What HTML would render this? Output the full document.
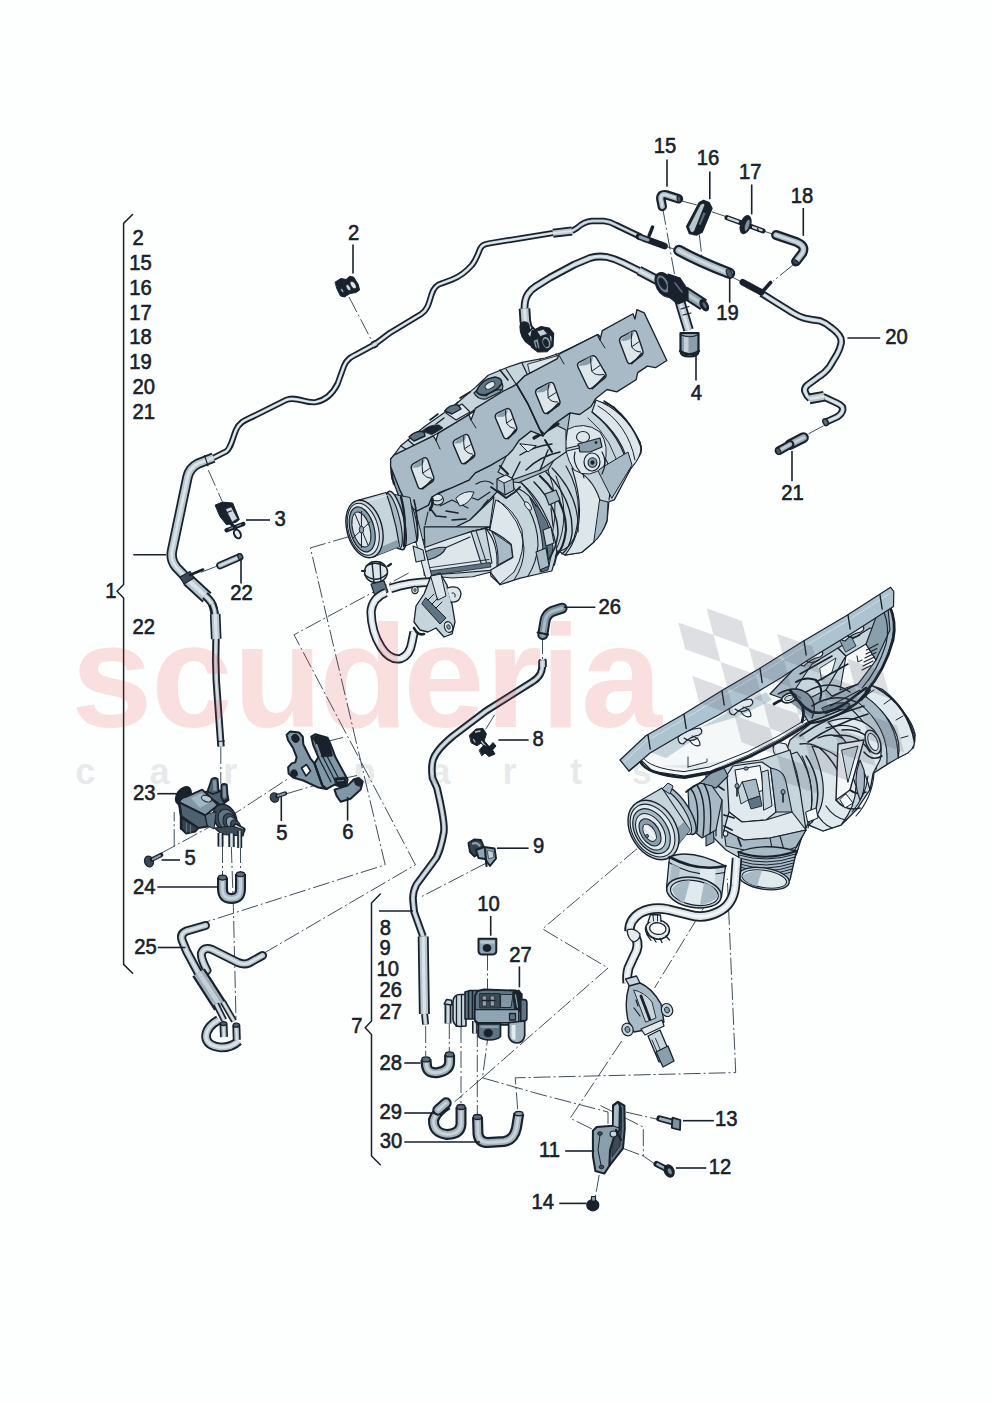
<!DOCTYPE html>
<html lang="en">
<head>
<meta charset="utf-8">
<title>Vacuum system - turbocharger parts diagram</title>
<style>
html,body{margin:0;padding:0;background:#fdfffe;}
body{width:992px;height:1403px;overflow:hidden;font-family:"Liberation Sans",sans-serif;}
svg{display:block;}
.lb{font-family:"Liberation Sans",sans-serif;fill:#18212c;stroke:#18212c;stroke-width:0.6px;}
.wm{font-family:"Liberation Sans",sans-serif;}
</style>
</head>
<body>
<svg width="992" height="1403" viewBox="0 0 992 1403">
<rect x="0" y="0" width="992" height="1403" fill="#fdfffe"/>
<g id="p_dash">
<polyline points="349.5,536.5 310.4,547.9 385.2,864.8 203.7,922.7" fill="none" stroke="#2b3a47" stroke-width="0.9" stroke-dasharray="17 3 2 3"/>
<polyline points="408.7,573.0 294.0,634.8 415.4,864.8 264.2,953.0" fill="none" stroke="#2b3a47" stroke-width="0.9" stroke-dasharray="17 3 2 3"/>
<polyline points="160.3,853.7 237.2,812.0 288.9,778.1" fill="none" stroke="#2b3a47" stroke-width="0.9" stroke-dasharray="17 3 2 3"/>
<polyline points="174.2,846.2 174.2,812.0" fill="none" stroke="#2b3a47" stroke-width="0.9" stroke-dasharray="17 3 2 3"/>
<polyline points="286.3,793.8 318.0,784.5" fill="none" stroke="#2b3a47" stroke-width="0.9" stroke-dasharray="17 3 2 3"/>
<polyline points="327.0,741.5 343.0,737.5" fill="none" stroke="#2b3a47" stroke-width="0.9" stroke-dasharray="17 3 2 3"/>
<polyline points="343.0,778.5 357.0,775.5" fill="none" stroke="#2b3a47" stroke-width="0.9" stroke-dasharray="17 3 2 3"/>
<polyline points="220.8,747.0 220.8,784.0" fill="none" stroke="#2b3a47" stroke-width="0.9" stroke-dasharray="17 3 2 3"/>
<polyline points="222.5,846.0 222.5,876.0" fill="none" stroke="#2b3a47" stroke-width="0.9" stroke-dasharray="17 3 2 3"/>
<polyline points="240.5,846.0 240.5,873.0" fill="none" stroke="#2b3a47" stroke-width="0.9" stroke-dasharray="17 3 2 3"/>
<polyline points="231.3,846.0 233.4,907.7 236.0,1019.0" fill="none" stroke="#2b3a47" stroke-width="0.9" stroke-dasharray="17 3 2 3"/>
<polyline points="208.4,470.2 222.3,501.7" fill="none" stroke="#2b3a47" stroke-width="0.9" stroke-dasharray="17 3 2 3"/>
<polyline points="200.9,572.3 217.3,566.0" fill="none" stroke="#2b3a47" stroke-width="0.9" stroke-dasharray="17 3 2 3"/>
<polyline points="349.0,297.0 373.5,344.0" fill="none" stroke="#2b3a47" stroke-width="0.9" stroke-dasharray="17 3 2 3"/>
<polyline points="680.3,200.6 699.2,205.6" fill="none" stroke="#2b3a47" stroke-width="0.9" stroke-dasharray="17 3 2 3"/>
<polyline points="711.9,211.9 727.5,217.0" fill="none" stroke="#2b3a47" stroke-width="0.9" stroke-dasharray="17 3 2 3"/>
<polyline points="762.0,230.5 774.0,234.5" fill="none" stroke="#2b3a47" stroke-width="0.9" stroke-dasharray="17 3 2 3"/>
<polyline points="662.7,208.1 675.3,278.7" fill="none" stroke="#2b3a47" stroke-width="0.9" stroke-dasharray="17 3 2 3"/>
<polyline points="699.3,234.6 701.8,256.0" fill="none" stroke="#2b3a47" stroke-width="0.9" stroke-dasharray="17 3 2 3"/>
<polyline points="665.2,246.0 677.8,250.5" fill="none" stroke="#2b3a47" stroke-width="0.9" stroke-dasharray="17 3 2 3"/>
<polyline points="732.8,277.4 742.8,282.5" fill="none" stroke="#2b3a47" stroke-width="0.9" stroke-dasharray="17 3 2 3"/>
<polyline points="793.2,264.8 773.0,281.2" fill="none" stroke="#2b3a47" stroke-width="0.9" stroke-dasharray="17 3 2 3"/>
<polyline points="823.5,425.8 807.0,434.6" fill="none" stroke="#2b3a47" stroke-width="0.9" stroke-dasharray="17 3 2 3"/>
<polyline points="542.5,637.0 542.5,660.0" fill="none" stroke="#2b3a47" stroke-width="0.9" stroke-dasharray="17 3 2 3"/>
<polyline points="494.6,714.8 484.5,731.2" fill="none" stroke="#2b3a47" stroke-width="0.9" stroke-dasharray="17 3 2 3"/>
<polyline points="485.8,863.3 420.2,897.3" fill="none" stroke="#2b3a47" stroke-width="0.9" stroke-dasharray="17 3 2 3"/>
<polyline points="425.7,1026.0 425.7,1056.0" fill="none" stroke="#2b3a47" stroke-width="0.9" stroke-dasharray="17 3 2 3"/>
<polyline points="449.3,1022.0 449.3,1052.0" fill="none" stroke="#2b3a47" stroke-width="0.9" stroke-dasharray="17 3 2 3"/>
<polyline points="461.0,1026.0 461.0,1103.0" fill="none" stroke="#2b3a47" stroke-width="0.9" stroke-dasharray="17 3 2 3"/>
<polyline points="477.3,1030.0 477.3,1114.0" fill="none" stroke="#2b3a47" stroke-width="0.9" stroke-dasharray="17 3 2 3"/>
<polyline points="487.5,953.5 487.5,1040.0 482.4,1077.8" fill="none" stroke="#2b3a47" stroke-width="0.9" stroke-dasharray="17 3 2 3"/>
<polyline points="482.4,1077.8 454.7,1101.7" fill="none" stroke="#2b3a47" stroke-width="0.9" stroke-dasharray="17 3 2 3"/>
<polyline points="482.4,1077.8 608.0,968.0 542.5,928.9 639.0,847.0" fill="none" stroke="#2b3a47" stroke-width="0.9" stroke-dasharray="17 3 2 3"/>
<polyline points="482.4,1077.8 540.0,1094.3 608.0,1112.0 608.0,1125.0" fill="none" stroke="#2b3a47" stroke-width="0.9" stroke-dasharray="17 3 2 3"/>
<polyline points="517.7,1109.3 515.2,1077.8 735.7,1072.6 727.3,878.6" fill="none" stroke="#2b3a47" stroke-width="0.9" stroke-dasharray="17 3 2 3"/>
<polyline points="710.9,896.0 654.5,988.0" fill="none" stroke="#2b3a47" stroke-width="0.9" stroke-dasharray="17 3 2 3"/>
<polyline points="621.7,1041.0 570.2,1118.2 593.0,1129.5" fill="none" stroke="#2b3a47" stroke-width="0.9" stroke-dasharray="17 3 2 3"/>
<polyline points="600.5,1105.6 643.3,1127.0 643.3,1156.0 656.0,1164.8" fill="none" stroke="#2b3a47" stroke-width="0.9" stroke-dasharray="17 3 2 3"/>
<polyline points="625.7,1112.0 658.4,1119.5" fill="none" stroke="#2b3a47" stroke-width="0.9" stroke-dasharray="17 3 2 3"/>
<polyline points="623.2,1148.4 643.3,1156.0" fill="none" stroke="#2b3a47" stroke-width="0.9" stroke-dasharray="17 3 2 3"/>
<polyline points="599.2,1175.0 595.4,1196.3" fill="none" stroke="#2b3a47" stroke-width="0.9" stroke-dasharray="17 3 2 3"/>
</g>
<g id="p_engine1">
<path d="M558,421 L585,404 Q600,399 614,407 L628.8,425.4 L639.7,441.8 Q643,450 640,455 L630.6,469 L614.3,499.9 L608.9,501.7 L607,521.6 Q602,535 592.5,543.4 L581.6,552.5 L565.3,555.2 L558,550.7 L554.4,565.2 L539.9,570.6 L516.3,577.9 L500,584.2 L490.9,576 L486,540 L500,470 Z" fill="#c6d4dc" stroke="#18212c" stroke-width="1.2" stroke-linejoin="round" stroke-linecap="round" />
<path d="M596,400 Q624,410 640,442 Q643,452 636,462 L629,471 Q626,438 592,412 Z" fill="#dde6eb" stroke="#18212c" stroke-width="1.1" stroke-linejoin="round" stroke-linecap="round" />
<path d="M604,401 Q630,416 641,447" fill="none" stroke="#18212c" stroke-width="1.5" stroke-linejoin="round" stroke-linecap="round" />
<path d="M592,412 Q622,436 629,471" fill="none" stroke="#18212c" stroke-width="1.2" stroke-linejoin="round" stroke-linecap="round" />
<path d="M598,406 Q628,424 635,460" fill="none" stroke="#18212c" stroke-width="1" stroke-linejoin="round" stroke-linecap="round" />
<path d="M588,418 Q614,440 620,474" fill="none" stroke="#18212c" stroke-width="0.9" stroke-linejoin="round" stroke-linecap="round" />
<path d="M572,468 Q592,476 600,500 Q606,524 594,542 L581.6,552.5 L565,555 Q590,525 572,468 Z" fill="#dde6eb" stroke="#18212c" stroke-width="1.1" stroke-linejoin="round" stroke-linecap="round" />
<path d="M566,466 Q586,500 574,538 Q570,548 560,551" fill="none" stroke="#18212c" stroke-width="1.1" stroke-linejoin="round" stroke-linecap="round" />
<path d="M586,440 Q606,450 612,476 L609,500" fill="none" stroke="#18212c" stroke-width="1.1" stroke-linejoin="round" stroke-linecap="round" />
<path d="M556,476 Q572,516 556,550" fill="none" stroke="#18212c" stroke-width="1" stroke-linejoin="round" stroke-linecap="round" />
<path d="M598,470 L628,452 L632,465 L612,498 Z" fill="#a7bac6" stroke="#18212c" stroke-width="1" stroke-linejoin="round" stroke-linecap="round" />
<path d="M600,500 L608,502 L607,520 Q603,533 594,542 Z" fill="#a7bac6" stroke="#18212c" stroke-width="1" stroke-linejoin="round" stroke-linecap="round" />
<path d="M560,440 Q580,452 584,478 M548,470 Q560,500 552,536" fill="none" stroke="#18212c" stroke-width="1" stroke-linejoin="round" stroke-linecap="round" />
<path d="M566,430 Q584,420 600,432 Q610,446 604,466 Q590,480 574,470 Q562,452 566,430 Z" fill="#dde6eb" stroke="#18212c" stroke-width="1" stroke-linejoin="round" stroke-linecap="round" />
<ellipse cx="592" cy="462" rx="8" ry="9" fill="#dde6eb" stroke="#18212c" stroke-width="1.2"/>
<ellipse cx="592.5" cy="462.5" rx="4.4" ry="4.8" fill="#8a9fac" stroke="#18212c" stroke-width="1.1"/>
<ellipse cx="592.5" cy="462.5" rx="1.8" ry="2" fill="#18212c" stroke="#18212c" stroke-width="0.5"/>
<path d="M578,444 L600,438 L602,447 L590,452 L580,452 Z" fill="#8a9fac" stroke="#18212c" stroke-width="1.2" stroke-linejoin="round" stroke-linecap="round" />
<ellipse cx="596" cy="442.5" rx="1.2" ry="1.2" fill="#18212c" stroke="#18212c" stroke-width="0.4"/>
<ellipse cx="583" cy="437" rx="6.5" ry="5.5" fill="#dde6eb" stroke="#18212c" stroke-width="1.1"/>
<path d="M575,452 Q572,462 580,472 M602,452 Q608,462 602,474" fill="none" stroke="#18212c" stroke-width="1.2" stroke-linejoin="round" stroke-linecap="round" />
<path d="M515,462 L578,447" fill="none" stroke="#18212c" stroke-width="3.8" stroke-linejoin="round" stroke-linecap="round" />
<path d="M515,462 L578,447" fill="none" stroke="#c6d4dc" stroke-width="1.6" stroke-linejoin="round" stroke-linecap="round" />
<path d="M506,458 L536,468" fill="none" stroke="#18212c" stroke-width="3.6" stroke-linejoin="round" stroke-linecap="round" />
<path d="M506,458 L536,468" fill="none" stroke="#c6d4dc" stroke-width="1.5" stroke-linejoin="round" stroke-linecap="round" />
<path d="M390.6,459.2 L393.9,455.2 L401,445.5 L425.3,426 L452.7,406.8 L475.3,387.4 L488.2,375.3 L507.6,367.3 L522,362.4 L545,358 L560,353 L598,334.5 L603,340 L560,362 L524.8,376 L516.5,384.2 L468.9,414.8 L433.4,435.8 L394,456 Z" fill="#c6d4dc" stroke="#18212c" stroke-width="1.2" stroke-linejoin="round" stroke-linecap="round" />
<path d="M422,431 Q430,424 439,425 L443,428 L432,434.5 Z" fill="#18212c" stroke="#18212c" stroke-width="0.8" stroke-linejoin="round" stroke-linecap="round" />
<path d="M474,393 Q486,380 500,381 Q506,386 500,392 L486,399 Q478,400 474,393 Z" fill="#8a9fac" stroke="#18212c" stroke-width="1.2" stroke-linejoin="round" stroke-linecap="round" />
<path d="M478,392 Q488,384 497,386" fill="none" stroke="#18212c" stroke-width="2.6" stroke-linejoin="round" stroke-linecap="round" />
<path d="M486,396 Q494,388 503,390" fill="none" stroke="#18212c" stroke-width="1.2" stroke-linejoin="round" stroke-linecap="round" />
<ellipse cx="485" cy="392" rx="5" ry="3.2" fill="#dde6eb" stroke="#18212c" stroke-width="1.1" transform="rotate(-30 485 392)"/>
<path d="M446,413 L456,420 L470,412 L462,404 Z" fill="#dde6eb" stroke="#18212c" stroke-width="1.1" stroke-linejoin="round" stroke-linecap="round" />
<path d="M450,410 L458,402 M462,420 L474,410 M436,424 L444,418" fill="none" stroke="#18212c" stroke-width="1.3" stroke-linejoin="round" stroke-linecap="round" />
<path d="M506,369 L516,384 M522,363 L528,376 M540,359 L544,369 M556,354 L561,362" fill="none" stroke="#18212c" stroke-width="1.2" stroke-linejoin="round" stroke-linecap="round" />
<path d="M528,364 L560,355 L562,360 L530,373 Z" fill="#dde6eb" stroke="#18212c" stroke-width="0.9" stroke-linejoin="round" stroke-linecap="round" />
<path d="M401,446 L410,452 M408,440 L416,447" fill="none" stroke="#18212c" stroke-width="1.2" stroke-linejoin="round" stroke-linecap="round" />
<path d="M476.5,391 Q481,379 495,377 Q503,378 501.5,384 Q497,391 486,394.5 Q478,396 476.5,391 Z" fill="#5f7482" stroke="#18212c" stroke-width="1.6" stroke-linejoin="round" stroke-linecap="round" />
<ellipse cx="490" cy="385.5" rx="5.4" ry="3" fill="#dde6eb" stroke="#18212c" stroke-width="1" transform="rotate(-28 490 385.5)"/>
<path d="M444.7,411 Q450,404 458,405 L461,409 L452,414 Z" fill="#5f7482" stroke="#18212c" stroke-width="1.4" stroke-linejoin="round" stroke-linecap="round" />
<path d="M409,437 Q416,430 424,432 L425,436 L414,441 Z" fill="#5f7482" stroke="#18212c" stroke-width="1.4" stroke-linejoin="round" stroke-linecap="round" />
<path d="M460,398 L470,392 M430,420 L438,414 M500,370 L508,380" fill="none" stroke="#18212c" stroke-width="1.6" stroke-linejoin="round" stroke-linecap="round" />
<path d="M390.6,459.2 L394,456 L399.5,489 L407.6,506 L417.3,510.8 L412,514 L402,505 L392,478 Z" fill="#8a9fac" stroke="#18212c" stroke-width="1.2" stroke-linejoin="round" stroke-linecap="round" />
<path d="M392,462 Q390,472 394,484" fill="none" stroke="#18212c" stroke-width="2.2" stroke-linejoin="round" stroke-linecap="round" />
<path d="M417,510 L428.5,505 L432,497 L453,487 L469,480 L475,473 L491.5,465 L507.6,455 L519,440.6 L531,431 L543,436 L554,424 L570,413 L566,440 L548,470 L520,482 L494,495 L470,520 L440,535 L422,540 L412,525 Z" fill="#a7bac6" stroke="#18212c" stroke-width="1.1" stroke-linejoin="round" stroke-linecap="round" />
<path d="M507,455 L519,440.6 L531,431 L543,436 L554,424 L566,430 L566,452 L540,470 L512,480 L498,472 Z" fill="#c6d4dc" stroke="#18212c" stroke-width="1.1" stroke-linejoin="round" stroke-linecap="round" />
<path d="M520,455 Q534,446 552,444 M526,470 Q540,456 560,452 M512,478 L520,462 M540,470 L548,450" fill="none" stroke="#18212c" stroke-width="1.4" stroke-linejoin="round" stroke-linecap="round" />
<path d="M534,438 Q548,430 558,424" fill="none" stroke="#18212c" stroke-width="3.2" stroke-linejoin="round" stroke-linecap="round" />
<path d="M520,444 L528,452 L536,446 Z" fill="#dde6eb" stroke="#18212c" stroke-width="1" stroke-linejoin="round" stroke-linecap="round" />
<path d="M500,466 L508,474 M545,440 L552,452" fill="none" stroke="#18212c" stroke-width="2" stroke-linejoin="round" stroke-linecap="round" />
<path d="M493.8,495.4 L506.4,481 L521.5,483 Q536,496 544.2,513 Q556,535 556.8,552 L554.8,560.6 L551.8,571 L540.3,573.5 L519.4,578.4 L500,584.8 L490.3,572 L488,555 L486,520 Z" fill="#c6d4dc" stroke="#18212c" stroke-width="1.2" stroke-linejoin="round" stroke-linecap="round" />
<path d="M496,500 Q514,508 522,530 Q526,552 514,572 L500,584 L490.5,572 L488,540 Z" fill="#dde6eb" stroke="#18212c" stroke-width="1" stroke-linejoin="round" stroke-linecap="round" />
<path d="M521.5,483 Q546,510 548,540 Q548,560 540,572" fill="none" stroke="#18212c" stroke-width="1.1" stroke-linejoin="round" stroke-linecap="round" />
<path d="M512,486 Q538,514 538,545 Q537,562 528,576" fill="none" stroke="#18212c" stroke-width="1.1" stroke-linejoin="round" stroke-linecap="round" />
<path d="M530,498 Q552,520 553,548 L548,570 L541,572 Q548,540 530,498 Z" fill="#5f7482" stroke="#18212c" stroke-width="1" stroke-linejoin="round" stroke-linecap="round" />
<path d="M498,500 Q522,520 524,548 Q524,566 514,580" fill="none" stroke="#18212c" stroke-width="1" stroke-linejoin="round" stroke-linecap="round" />
<ellipse cx="528" cy="506" rx="2.2" ry="5" fill="#dde6eb" stroke="#18212c" stroke-width="0.9" transform="rotate(-35 528 506)"/>
<polygon points="497.0,479.0 506.0,475.0 513.0,479.0 514.0,490.0 505.0,495.0 497.0,490.0" fill="#a7bac6" stroke="#18212c" stroke-width="1.2" stroke-linejoin="round" />
<polygon points="497.0,479.0 506.0,475.0 513.0,479.0 504.0,483.0" fill="#dde6eb" stroke="#18212c" stroke-width="1" stroke-linejoin="round" />
<path d="M504,483 L505,495" fill="none" stroke="#18212c" stroke-width="1" stroke-linejoin="round" stroke-linecap="round" />
<path d="M491,487 L498,492 L506,498 L515,492 L520,487" fill="none" stroke="#18212c" stroke-width="1.8" stroke-linejoin="round" stroke-linecap="round" />
<path d="M488,500 Q478,510 476,524 M519,489 Q530,494 536,506" fill="none" stroke="#18212c" stroke-width="1.2" stroke-linejoin="round" stroke-linecap="round" />
<path d="M540,476 Q566,500 566,530 Q564,548 556,556" fill="none" stroke="#18212c" stroke-width="2.2" stroke-linejoin="round" stroke-linecap="round" />
<path d="M546,472 Q574,500 572,534 Q570,548 562,554" fill="none" stroke="#18212c" stroke-width="1.4" stroke-linejoin="round" stroke-linecap="round" />
<path d="M534,482 Q558,506 558,534 Q556,550 548,560" fill="none" stroke="#18212c" stroke-width="1.5" stroke-linejoin="round" stroke-linecap="round" />
<path d="M552,468 Q580,496 578,532" fill="none" stroke="#18212c" stroke-width="1.1" stroke-linejoin="round" stroke-linecap="round" />
<polygon points="536.0,552.0 546.0,548.0 549.0,566.0 540.0,570.0" fill="#a7bac6" stroke="#18212c" stroke-width="1.1" stroke-linejoin="round" />
<polygon points="543.0,530.0 551.0,527.0 554.0,543.0 546.0,546.0" fill="#c6d4dc" stroke="#18212c" stroke-width="1.1" stroke-linejoin="round" />
<polygon points="545.0,494.0 556.0,490.0 560.0,500.0 549.0,505.0" fill="#a7bac6" stroke="#18212c" stroke-width="1.1" stroke-linejoin="round" />
<path d="M547,547 L548,556 M551,508 L553,526" fill="none" stroke="#18212c" stroke-width="1.2" stroke-linejoin="round" stroke-linecap="round" />
<path d="M423,540 L440,535 L470,520 L494,497 L488,540 L491,572 L472.6,576.8 L452,578 L424.2,575.2 Z" fill="#c6d4dc" stroke="#18212c" stroke-width="1.1" stroke-linejoin="round" stroke-linecap="round" />
<polygon points="424.2,526.8 490.3,526.8 470.0,532.0 445.0,547.7 425.0,551.0" fill="#a7bac6" stroke="#18212c" stroke-width="1.2" stroke-linejoin="round" />
<path d="M424,547.7 L450,538.5 L471,531.6 L485.5,528.4 Q500,534 511.3,544.5 L512.9,557.4 L490.3,570.3 L452,573.5 L425.8,575.2 Z" fill="#dde6eb" stroke="#18212c" stroke-width="1.2" stroke-linejoin="round" stroke-linecap="round" />
<path d="M471,531.6 L482,566 L492,563 L485.5,528.4 Z" fill="#c6d4dc" stroke="#18212c" stroke-width="1.1" stroke-linejoin="round" stroke-linecap="round" />
<path d="M476,530.5 L487,564.5" fill="none" stroke="#18212c" stroke-width="1" stroke-linejoin="round" stroke-linecap="round" />
<path d="M485.5,528.4 Q498,542 497,566" fill="none" stroke="#18212c" stroke-width="1.1" stroke-linejoin="round" stroke-linecap="round" />
<path d="M492,532 L511,545 L512.5,557 L498,565 Q499,546 492,532 Z" fill="#a7bac6" stroke="#18212c" stroke-width="1" stroke-linejoin="round" stroke-linecap="round" />
<path d="M426,571.5 L490,562.5 L491,567 L426.5,576 Z" fill="#5f7482" stroke="#18212c" stroke-width="0.8" stroke-linejoin="round" stroke-linecap="round" />
<path d="M427,568 L489,559.5" fill="none" stroke="#18212c" stroke-width="0.9" stroke-linejoin="round" stroke-linecap="round" />
<path d="M425,552 Q438,546 446,547.5 Q443,556 428,560 Z" fill="#8a9fac" stroke="#18212c" stroke-width="1.1" stroke-linejoin="round" stroke-linecap="round" />
<path d="M446,547.5 L470,537" fill="none" stroke="#18212c" stroke-width="1.1" stroke-linejoin="round" stroke-linecap="round" />
<polygon points="404.0,498.0 412.0,497.0 432.0,577.0 426.0,579.0" fill="#dde6eb" stroke="#18212c" stroke-width="1" stroke-linejoin="round" />
<path d="M413,546 L423,550 L425,560 L416,562 Z" fill="#c6d4dc" stroke="#18212c" stroke-width="1.1" stroke-linejoin="round" stroke-linecap="round" />
<ellipse cx="437.5" cy="500" rx="6" ry="5" fill="#c6d4dc" stroke="#18212c" stroke-width="1.1"/>
<ellipse cx="437" cy="497.5" rx="5.5" ry="3.4" fill="#dde6eb" stroke="#18212c" stroke-width="1"/>
<path d="M430,508 L436,516 L446,517 M446,511 L458,513 M452,520 L466,519" fill="none" stroke="#18212c" stroke-width="1.6" stroke-linejoin="round" stroke-linecap="round" />
<path d="M430,510 Q434,503 432,498" fill="none" stroke="#18212c" stroke-width="2.6" stroke-linejoin="round" stroke-linecap="round" />
<path d="M428,512 L425,525 M440,506 L452,500 L468,508 M462,494 L478,500 L490,492" fill="none" stroke="#18212c" stroke-width="1.1" stroke-linejoin="round" stroke-linecap="round" />
<path d="M456,498 Q464,490 474,492 Q470,504 460,506 Z" fill="#dde6eb" stroke="#18212c" stroke-width="1" stroke-linejoin="round" stroke-linecap="round" />
<path d="M476,484 Q486,478 493,484" fill="none" stroke="#18212c" stroke-width="1.2" stroke-linejoin="round" stroke-linecap="round" />
<polygon points="390.6,459.2 393.9,455.2 433.4,435.8 436.0,440.5 438.0,433.5 468.9,414.8 471.0,420.0 475.3,408.4 502.7,391.5 512.4,386.6 516.5,384.2 528.0,404.0 539.8,429.4 543.0,435.8 531.0,431.0 518.9,440.6 512.4,450.3 507.6,455.2 491.5,464.8 475.3,472.9 468.9,480.2 452.7,487.4 439.8,492.3 431.8,497.1 428.5,505.2 417.3,510.8 407.6,506.0 399.5,489.0 390.6,466.5" fill="#a7bac6" stroke="#18212c" stroke-width="1.3" stroke-linejoin="round" />
<polygon points="516.5,384.2 524.8,375.8 557.0,358.9 559.5,354.0 597.4,334.7 600.0,340.0 602.3,330.6 632.9,313.7 635.0,319.0 636.9,309.7 644.2,312.9 666.8,360.5 655.5,367.7 647.4,366.1 637.7,372.6 636.1,379.8 616.8,391.9 607.1,389.5 595.8,398.4 591.0,406.5 579.7,414.5 570.0,412.9 553.9,424.2 544.2,433.9 539.8,429.4 528.0,404.0" fill="#a7bac6" stroke="#18212c" stroke-width="1.3" stroke-linejoin="round" />
<path d="M516.5,384.2 L528,404 L539.8,429.4 L543,435.8" fill="none" stroke="#18212c" stroke-width="1.5" stroke-linejoin="round" stroke-linecap="round" />
<path d="M436,440.5 L440,449 M471,420 L476,428 M600,340 L605,348 M559.5,356 L564,364" fill="none" stroke="#18212c" stroke-width="1" stroke-linejoin="round" stroke-linecap="round" />
<path d="M411.6,469.4 Q410.2,465.6 413.6,463.7 L423.0,458.4 Q426.5,456.5 427.9,460.3 L433.5,476.4 Q434.8,480.2 431.4,482.4 L422.7,488.0 Q419.3,490.2 417.9,486.4 Z" fill="#dde6eb" stroke="#18212c" stroke-width="1.4" stroke-linejoin="round"/>
<path d="M411.7,467.6 Q418.3,460.1 425.0,458.0 Q423.7,469.1 411.7,467.6 Z" fill="#8a9fac" stroke="none"/>
<path d="M422.7,473.1 Q425.7,478.1 431.8,478.2 M422.7,473.1 Q421.7,467.1 422.5,459.5 M422.7,473.1 L429.7,468.4" stroke="#18212c" stroke-width="1" fill="none"/>
<path d="M421.8,489.2 Q427.1,485.7 432.8,479.2" stroke="#18212c" stroke-width="1.8" fill="none"/>
<path d="M453.6,445.1 Q452.1,441.4 455.6,439.6 L464.1,435.1 Q467.7,433.2 469.0,437.0 L474.5,452.2 Q475.8,456.0 472.5,458.2 L465.5,462.8 Q462.1,465.1 460.6,461.4 Z" fill="#dde6eb" stroke="#18212c" stroke-width="1.4" stroke-linejoin="round"/>
<path d="M453.6,443.4 Q459.9,436.3 466.2,434.7 Q465.4,444.9 453.6,443.4 Z" fill="#8a9fac" stroke="none"/>
<path d="M464.4,448.9 Q467.4,453.9 472.8,454.0 M464.4,448.9 Q463.4,442.9 463.7,436.2 M464.4,448.9 L470.7,444.6" stroke="#18212c" stroke-width="1" fill="none"/>
<path d="M464.6,464.1 Q469.0,461.0 473.8,455.0" stroke="#18212c" stroke-width="1.8" fill="none"/>
<path d="M495.6,418.3 Q494.1,414.6 497.7,412.9 L505.9,409.1 Q509.5,407.4 510.9,411.2 L516.4,426.5 Q517.8,430.2 514.6,432.7 L508.2,437.7 Q505.0,440.2 503.4,436.5 Z" fill="#dde6eb" stroke="#18212c" stroke-width="1.4" stroke-linejoin="round"/>
<path d="M495.6,416.6 Q501.8,410.0 508.0,408.9 Q507.6,419.1 495.6,416.6 Z" fill="#8a9fac" stroke="none"/>
<path d="M506.6,423.1 Q509.6,428.1 514.8,428.2 M506.6,423.1 Q505.6,417.1 505.5,410.4 M506.6,423.1 L512.7,418.8" stroke="#18212c" stroke-width="1" fill="none"/>
<path d="M507.5,439.2 Q511.4,435.7 515.8,429.2" stroke="#18212c" stroke-width="1.8" fill="none"/>
<path d="M536.0,394.0 Q534.5,390.3 538.1,388.5 L549.2,383.0 Q552.8,381.2 554.2,385.0 L559.6,400.2 Q561.0,403.9 557.6,406.2 L547.9,412.7 Q544.6,414.9 543.1,411.2 Z" fill="#dde6eb" stroke="#18212c" stroke-width="1.4" stroke-linejoin="round"/>
<path d="M536.0,392.3 Q543.7,384.7 551.3,382.7 Q549.2,393.6 536.0,392.3 Z" fill="#8a9fac" stroke="none"/>
<path d="M548.2,397.6 Q551.2,402.6 558.0,401.9 M548.2,397.6 Q547.2,391.6 548.8,384.2 M548.2,397.6 L555.9,392.6" stroke="#18212c" stroke-width="1" fill="none"/>
<path d="M547.1,413.9 Q552.8,409.9 559.0,402.9" stroke="#18212c" stroke-width="1.8" fill="none"/>
<path d="M578.1,367.2 Q576.3,363.6 579.9,361.9 L590.9,356.4 Q594.5,354.6 596.5,358.0 L605.3,372.9 Q607.3,376.4 604.1,378.8 L592.3,387.7 Q589.1,390.1 587.3,386.5 Z" fill="#dde6eb" stroke="#18212c" stroke-width="1.4" stroke-linejoin="round"/>
<path d="M577.8,365.6 Q585.4,358.1 593.0,356.1 Q592.8,367.2 577.8,365.6 Z" fill="#8a9fac" stroke="none"/>
<path d="M591.8,371.2 Q594.8,376.2 604.3,374.4 M591.8,371.2 Q590.8,365.2 590.5,357.6 M591.8,371.2 L599.9,365.5" stroke="#18212c" stroke-width="1" fill="none"/>
<path d="M591.6,389.1 Q598.2,383.7 605.3,375.4" stroke="#18212c" stroke-width="1.8" fill="none"/>
<path d="M619.9,342.3 Q618.5,338.6 622.0,336.7 L632.2,331.4 Q635.8,329.5 637.0,333.3 L642.7,350.2 Q644.0,354.0 640.8,356.3 L631.8,362.7 Q628.5,365.0 627.1,361.3 Z" fill="#dde6eb" stroke="#18212c" stroke-width="1.4" stroke-linejoin="round"/>
<path d="M620.0,340.6 Q627.1,333.0 634.3,331.0 Q632.7,342.8 620.0,340.6 Z" fill="#8a9fac" stroke="none"/>
<path d="M631.7,346.8 Q634.7,351.8 641.0,352.0 M631.7,346.8 Q630.7,340.8 631.8,332.5 M631.7,346.8 L638.9,341.8" stroke="#18212c" stroke-width="1" fill="none"/>
<path d="M631.0,364.0 Q636.3,360.0 642.0,353.0" stroke="#18212c" stroke-width="1.8" fill="none"/>
<ellipse cx="410.5" cy="520" rx="5.5" ry="23" fill="#a7bac6" stroke="#18212c" stroke-width="1.2" transform="rotate(-13 410.5 520)"/>
<path d="M392,494 L410,497.5 L417,541 L401,548 Z" fill="#a7bac6" stroke="#18212c" stroke-width="1" stroke-linejoin="round" stroke-linecap="round" />
<ellipse cx="396" cy="520.5" rx="8" ry="30" fill="#c6d4dc" stroke="#18212c" stroke-width="1.4" transform="rotate(-13 396 520.5)"/>
<ellipse cx="393" cy="521" rx="7" ry="28.6" fill="#a7bac6" stroke="#18212c" stroke-width="1.1" transform="rotate(-13 393 521)"/>
<path d="M357,500.6 L386,492.5 Q396,520 399.5,546.5 L373,557 Z" fill="#c6d4dc" stroke="#18212c" stroke-width="1.2" stroke-linejoin="round" stroke-linecap="round" />
<path d="M366,553.5 L397,540 L399.5,546.5 L373,557 Z" fill="#8a9fac" stroke="none" stroke-width="1.1" stroke-linejoin="round" stroke-linecap="round" />
<path d="M360,503 L387,495.5" fill="none" stroke="#eef3f5" stroke-width="0.9" stroke-linejoin="round" stroke-linecap="round" />
<ellipse cx="364.5" cy="529" rx="17.6" ry="29.4" fill="#c6d4dc" stroke="#18212c" stroke-width="1.4" transform="rotate(-15 364.5 529)"/>
<ellipse cx="363.3" cy="529.2" rx="15" ry="26.6" fill="#dde6eb" stroke="#18212c" stroke-width="1" transform="rotate(-15 363.3 529.2)"/>
<ellipse cx="362.2" cy="529.4" rx="12" ry="23" fill="#8a9fac" stroke="#18212c" stroke-width="1.2" transform="rotate(-15 362.2 529.4)"/>
<ellipse cx="361.4" cy="529.5" rx="8.6" ry="18" fill="#dde6eb" stroke="#18212c" stroke-width="1" transform="rotate(-15 361.4 529.5)"/>
<path d="M355,514 L368,545 M353,538 L370,522 M361.4,511.5 L361.5,547.5" fill="none" stroke="#18212c" stroke-width="1" stroke-linejoin="round" stroke-linecap="round" />
<ellipse cx="361.5" cy="529.6" rx="2.2" ry="3.4" fill="#8a9fac" stroke="#18212c" stroke-width="0.9"/>
<path d="M401,497 Q407,520 404,546" fill="none" stroke="#18212c" stroke-width="2.4" stroke-linejoin="round" stroke-linecap="round" />
<path d="M414,500 Q419,520 417,540" fill="none" stroke="#18212c" stroke-width="1.6" stroke-linejoin="round" stroke-linecap="round" />
<ellipse cx="376" cy="572" rx="11.5" ry="10.5" fill="#dde6eb" stroke="#18212c" stroke-width="1.4"/>
<path d="M366,566 Q376,560 386,567 M365,575 Q376,584 387,574 M372,562 L374,583 M380,562 L381,583" fill="none" stroke="#18212c" stroke-width="1.4" stroke-linejoin="round" stroke-linecap="round" />
<path d="M365,571 L362,571 M388,566 L391,564" fill="none" stroke="#18212c" stroke-width="2.2" stroke-linejoin="round" stroke-linecap="round" />
<path d="M371,584 L384,581 L388,592 L375,596 Z" fill="#5f7482" stroke="#18212c" stroke-width="1.2" stroke-linejoin="round" stroke-linecap="round" />
<path d="M390.5,588.5 Q410,582 432,582" fill="none" stroke="#18212c" stroke-width="9.6" stroke-linecap="butt" stroke-linejoin="round"/>
<path d="M390.5,588.5 Q410,582 432,582" fill="none" stroke="#dbe4e9" stroke-width="6.20" stroke-linecap="butt" stroke-linejoin="round"/>
<path d="M390.5,588.5 Q410,582 432,582" fill="none" stroke="#f1f5f7" stroke-width="2.60" stroke-linecap="butt" stroke-linejoin="round"/>
<path d="M386,592.5 Q372,598 371,612 Q371.5,632 381,647 Q390,661 401,658.5 Q410,655 412,642 L414,632" fill="none" stroke="#18212c" stroke-width="9.2" stroke-linecap="butt" stroke-linejoin="round"/>
<path d="M386,592.5 Q372,598 371,612 Q371.5,632 381,647 Q390,661 401,658.5 Q410,655 412,642 L414,632" fill="none" stroke="#dbe4e9" stroke-width="5.80" stroke-linecap="butt" stroke-linejoin="round"/>
<path d="M386,592.5 Q372,598 371,612 Q371.5,632 381,647 Q390,661 401,658.5 Q410,655 412,642 L414,632" fill="none" stroke="#f1f5f7" stroke-width="2.44" stroke-linecap="butt" stroke-linejoin="round"/>
<path d="M431,576 L440,573 L447,585 L452,604 L455,622 L452,634 L444,637 L436,628 L428,632 L420,630 L414,622 L416,606 L424,594 Z" fill="#c6d4dc" stroke="#18212c" stroke-width="1.3" stroke-linejoin="round" stroke-linecap="round" />
<path d="M431,576 L441,574 L446,596 L438,600 Z" fill="#dde6eb" stroke="#18212c" stroke-width="1" stroke-linejoin="round" stroke-linecap="round" />
<path d="M426,598 L446,618 L440,624 L422,604 Z" fill="#5f7482" stroke="#18212c" stroke-width="1" stroke-linejoin="round" stroke-linecap="round" />
<path d="M428,600 L434,594 M432,604 L438,598 M436,608 L442,602" fill="none" stroke="#18212c" stroke-width="1" stroke-linejoin="round" stroke-linecap="round" />
<ellipse cx="448.5" cy="627" rx="4" ry="5.5" fill="#dde6eb" stroke="#18212c" stroke-width="1.2" transform="rotate(-20 448.5 627)"/>
<ellipse cx="448.5" cy="627" rx="1.6" ry="2.4" fill="#8a9fac" stroke="#18212c" stroke-width="0.8" transform="rotate(-20 448.5 627)"/>
<ellipse cx="415" cy="590" rx="3.2" ry="3.6" fill="#dde6eb" stroke="#18212c" stroke-width="1.1"/>
<ellipse cx="415" cy="590" rx="1.2" ry="1.5" fill="#8a9fac" stroke="#18212c" stroke-width="0.7"/>
<path d="M447,588 Q460,584 461,594 Q460,603 451,602" fill="#dde6eb" stroke="#18212c" stroke-width="1.3" stroke-linejoin="round" stroke-linecap="round" />
<path d="M452,593 Q456,592 455,597" fill="none" stroke="#18212c" stroke-width="1" stroke-linejoin="round" stroke-linecap="round" />
<path d="M414,628 Q418,636 424,634" fill="none" stroke="#18212c" stroke-width="2.6" stroke-linejoin="round" stroke-linecap="round" />
</g>
<g id="p_engine2">
<path d="M820,716 L868,688 L870,684.8 L882.9,689.7 Q896,700 903.9,712.3 Q913,724 915.2,734.8 L913.5,747.7 L903.9,754.2 L882.9,767.1 L873.2,773.5 L870,789.7 L857.1,809 L841,825.2 L823.2,830.8 L808.7,825.2 L803.5,823.4 L797,852.4 L790.6,867 L786,880 L760,870 L770,800 L790,740 Z" fill="#c6d4dc" stroke="#18212c" stroke-width="1.3" stroke-linejoin="round" stroke-linecap="round" />
<path d="M870,685 Q902,698 914,734 Q917,746 908,753 L898,758 Q905,728 866,697 Z" fill="#e0e9ed" stroke="#18212c" stroke-width="1.2" stroke-linejoin="round" stroke-linecap="round" />
<path d="M877,688 Q908,706 914.5,742" fill="none" stroke="#18212c" stroke-width="1.7" stroke-linejoin="round" stroke-linecap="round" />
<path d="M866,697 Q898,720 898,758" fill="none" stroke="#18212c" stroke-width="1.4" stroke-linejoin="round" stroke-linecap="round" />
<path d="M858,702 Q890,728 887,764" fill="none" stroke="#18212c" stroke-width="1.2" stroke-linejoin="round" stroke-linecap="round" />
<path d="M850,708 Q880,734 876,770" fill="none" stroke="#18212c" stroke-width="1.1" stroke-linejoin="round" stroke-linecap="round" />
<path d="M868,694 L874,690 M884,704 L891,699 M896,720 L903,716 M901,738 L908,736" fill="none" stroke="#18212c" stroke-width="1" stroke-linejoin="round" stroke-linecap="round" />
<path d="M866,697 Q898,720 898,758 L887,764 Q890,728 858,702 Z" fill="#a7bac6" stroke="#18212c" stroke-width="0.8" stroke-linejoin="round" stroke-linecap="round" />
<path d="M828,722 Q856,712 874,730 Q884,744 880,760 L873,773.5 L870,790 Q862,756 828,722 Z" fill="#e0e9ed" stroke="#18212c" stroke-width="1.2" stroke-linejoin="round" stroke-linecap="round" />
<path d="M812,746 Q846,752 856,786 Q856,806 841,825 L823,831 L809,825 Q836,800 812,746 Z" fill="#e0e9ed" stroke="#18212c" stroke-width="1.2" stroke-linejoin="round" stroke-linecap="round" />
<path d="M834,736 Q858,732 870,752 M842,730 Q864,728 876,746 M806,756 Q826,786 812,822 M820,748 Q846,772 846,806" fill="none" stroke="#18212c" stroke-width="1.5" stroke-linejoin="round" stroke-linecap="round" />
<path d="M826,728 Q846,722 860,730 M818,738 Q832,732 842,738 M800,744 Q814,742 822,750" fill="none" stroke="#18212c" stroke-width="1.3" stroke-linejoin="round" stroke-linecap="round" />
<path d="M838,744 L864,740 L850,790 L836,800 Z" fill="#f4f8f9" stroke="#18212c" stroke-width="1.4" stroke-linejoin="round" stroke-linecap="round" />
<path d="M842,750 L858,746 L848,782 Z" fill="#c6d4dc" stroke="#18212c" stroke-width="1" stroke-linejoin="round" stroke-linecap="round" />
<path d="M836,800 Q846,812 860,808 M850,790 Q858,796 866,792" fill="none" stroke="#18212c" stroke-width="1.6" stroke-linejoin="round" stroke-linecap="round" />
<path d="M846,794 L853,803 L845,808 L840,800 Z" fill="#f4f8f9" stroke="#18212c" stroke-width="1" stroke-linejoin="round" stroke-linecap="round" />
<ellipse cx="873" cy="742" rx="7" ry="12.5" fill="#c6d4dc" stroke="#18212c" stroke-width="1.4" transform="rotate(-22 873 742)"/>
<ellipse cx="873" cy="742" rx="4.4" ry="9" fill="#e0e9ed" stroke="#18212c" stroke-width="0.9" transform="rotate(-22 873 742)"/>
<path d="M864,752 Q872,762 882,756" fill="none" stroke="#18212c" stroke-width="1.5" stroke-linejoin="round" stroke-linecap="round" />
<path d="M860,760 Q852,780 860,800 Q866,790 864,770 Z" fill="#a7bac6" stroke="#18212c" stroke-width="1.1" stroke-linejoin="round" stroke-linecap="round" />
<path d="M868,776 Q866,796 852,812 M874,774 Q872,798 856,816" fill="none" stroke="#18212c" stroke-width="1.1" stroke-linejoin="round" stroke-linecap="round" />
<path d="M826,806 Q834,818 846,820 M816,812 Q822,824 832,828" fill="none" stroke="#18212c" stroke-width="1.2" stroke-linejoin="round" stroke-linecap="round" />
<path d="M806,724 Q830,706 862,700 L868,690 L856,704 L824,717 Z" fill="#a7bac6" stroke="#18212c" stroke-width="1.1" stroke-linejoin="round" stroke-linecap="round" />
<path d="M800,736 Q828,716 864,706 M808,742 Q834,724 868,714" fill="none" stroke="#18212c" stroke-width="1.6" stroke-linejoin="round" stroke-linecap="round" />
<path d="M797,752 Q812,772 812,800 Q811,822 803.5,832 L797,852 L790,850 Q800,810 794,780 Q792,766 786,756 Z" fill="#c6d4dc" stroke="#18212c" stroke-width="1.2" stroke-linejoin="round" stroke-linecap="round" />
<path d="M790,754 Q806,786 798,840" fill="none" stroke="#18212c" stroke-width="1.1" stroke-linejoin="round" stroke-linecap="round" />
<path d="M802,756 Q818,790 808,828" fill="none" stroke="#18212c" stroke-width="1.1" stroke-linejoin="round" stroke-linecap="round" />
<path d="M783,760 Q796,790 790,836" fill="none" stroke="#18212c" stroke-width="1.7" stroke-linejoin="round" stroke-linecap="round" />
<path d="M776,762 L786,758 L790,774 L780,778 Z" fill="#f4f8f9" stroke="#18212c" stroke-width="1.1" stroke-linejoin="round" stroke-linecap="round" />
<path d="M778,778 L788,776 L792,800 L796,830 L786,846 Z" fill="#a7bac6" stroke="#18212c" stroke-width="1" stroke-linejoin="round" stroke-linecap="round" />
<path d="M806,812 L816,808 L818,818 L808,822 Z" fill="#f4f8f9" stroke="#18212c" stroke-width="1" stroke-linejoin="round" stroke-linecap="round" />
<path d="M776,756 Q770,748 776,742 L786,744 L790,752 Z" fill="#e0e9ed" stroke="#18212c" stroke-width="1.1" stroke-linejoin="round" stroke-linecap="round" />
<path d="M706,770 L730,764 L760,760 L790,750 L800,790 L806,830 L796,848 L786,862 L740,858 L726,850 L706,830 Z" fill="#c6d4dc" stroke="#18212c" stroke-width="1.2" stroke-linejoin="round" stroke-linecap="round" />
<polygon points="727.0,775.0 733.0,766.0 762.0,762.0 770.6,768.0 776.0,812.0 766.0,820.0 742.0,822.0 729.0,812.0" fill="#e0e9ed" stroke="#18212c" stroke-width="1.2" stroke-linejoin="round" />
<polygon points="735.0,770.0 760.0,765.5 764.0,790.0 746.0,796.0 738.0,790.0" fill="#f4f8f9" stroke="#18212c" stroke-width="1.1" stroke-linejoin="round" />
<polygon points="742.0,782.0 756.0,779.0 760.0,796.0 748.0,800.0" fill="#a7bac6" stroke="#18212c" stroke-width="1" stroke-linejoin="round" />
<polygon points="748.0,800.0 760.0,796.0 762.0,806.0 751.0,809.0" fill="#5f7482" stroke="#18212c" stroke-width="0.9" stroke-linejoin="round" />
<path d="M742,782 L738,790 L741,804 L748,800 Z" fill="#c6d4dc" stroke="#18212c" stroke-width="0.9" stroke-linejoin="round" stroke-linecap="round" />
<path d="M770.6,768 Q784,770 786,782 L792,812 L776,812 Z" fill="#a7bac6" stroke="#18212c" stroke-width="1.1" stroke-linejoin="round" stroke-linecap="round" />
<path d="M762,772 L768,770 L772,806 L764,810 Z" fill="#c6d4dc" stroke="#18212c" stroke-width="1" stroke-linejoin="round" stroke-linecap="round" />
<path d="M729,812 L742,822 L766,820 L792,812 L806,830 L770,838 L744,840 L724,830 Z" fill="#e0e9ed" stroke="#18212c" stroke-width="1.2" stroke-linejoin="round" stroke-linecap="round" />
<path d="M724,830 L744,840 L770,838 L806,830 L796,847 L784,852 L744,850 L726,846 Z" fill="#a7bac6" stroke="#18212c" stroke-width="1.1" stroke-linejoin="round" stroke-linecap="round" />
<ellipse cx="737" cy="786" rx="2" ry="2.4" fill="#8a9fac" stroke="#18212c" stroke-width="1"/>
<ellipse cx="783" cy="792" rx="2" ry="2.4" fill="#8a9fac" stroke="#18212c" stroke-width="1"/>
<ellipse cx="746" cy="768.5" rx="2.2" ry="1.6" fill="#8a9fac" stroke="#18212c" stroke-width="1"/>
<path d="M737,788 L737,796 M783,794 L783,802" fill="none" stroke="#18212c" stroke-width="1.6" stroke-linejoin="round" stroke-linecap="round" />
<path d="M722,800 L722,838 M716,808 L716,836" fill="none" stroke="#18212c" stroke-width="1.2" stroke-linejoin="round" stroke-linecap="round" />
<path d="M724,815 L734,818 M724,826 L732,830 M738,838 L741,846" fill="none" stroke="#18212c" stroke-width="1.8" stroke-linejoin="round" stroke-linecap="round" />
<ellipse cx="725.5" cy="833.5" rx="2.4" ry="2.8" fill="#e0e9ed" stroke="#18212c" stroke-width="1.1"/>
<path d="M770,838 L772,848 M780,836 L784,850" fill="none" stroke="#18212c" stroke-width="1.1" stroke-linejoin="round" stroke-linecap="round" />
<polygon points="706.0,806.0 712.0,800.0 714.0,842.0 706.0,846.0" fill="#8a9fac" stroke="#18212c" stroke-width="1.1" stroke-linejoin="round" />
<path d="M708,770 L722,778 L727,775 M712,782 L724,790 M716,768 L722,772" fill="none" stroke="#18212c" stroke-width="1.6" stroke-linejoin="round" stroke-linecap="round" />
<path d="M700,783 L712,772 L724,768 L728,776 L716,788 Z" fill="#8a9fac" stroke="#18212c" stroke-width="1.1" stroke-linejoin="round" stroke-linecap="round" />
<path d="M688,790 L700,783 L712,786 L722,800 L716,830 L702,838 L690,828 Z" fill="#a7bac6" stroke="#18212c" stroke-width="1.2" stroke-linejoin="round" stroke-linecap="round" />
<path d="M691,789 Q700,800 697,832 M697,785 Q707,800 703,836 M704,784 Q713,798 710,834" fill="none" stroke="#18212c" stroke-width="1.4" stroke-linejoin="round" stroke-linecap="round" />
<path d="M686,792 L694,786 L700,783" fill="none" stroke="#18212c" stroke-width="1.8" stroke-linejoin="round" stroke-linecap="round" />
<ellipse cx="680" cy="811" rx="9" ry="27" fill="#a7bac6" stroke="#18212c" stroke-width="1.4" transform="rotate(-32 680 811)"/>
<ellipse cx="676.5" cy="812.5" rx="8" ry="25.5" fill="#c6d4dc" stroke="#18212c" stroke-width="1.1" transform="rotate(-32 676.5 812.5)"/>
<path d="M637,802.5 L662,788 L690,830 L668,857 Z" fill="#c6d4dc" stroke="#18212c" stroke-width="1.1" stroke-linejoin="round" stroke-linecap="round" />
<path d="M654,848 L684,822 L690,830 L668,857 Z" fill="#8a9fac" stroke="none" stroke-width="1.1" stroke-linejoin="round" stroke-linecap="round" />
<ellipse cx="653.5" cy="830" rx="22.5" ry="32" fill="#c6d4dc" stroke="#18212c" stroke-width="1.4" transform="rotate(-32 653.5 830)"/>
<ellipse cx="652.5" cy="830.6" rx="19.5" ry="28.6" fill="#e0e9ed" stroke="#18212c" stroke-width="1.1" transform="rotate(-32 652.5 830.6)"/>
<ellipse cx="651.5" cy="831.2" rx="16" ry="24.5" fill="#a7bac6" stroke="#18212c" stroke-width="1.2" transform="rotate(-32 651.5 831.2)"/>
<ellipse cx="650.6" cy="831.8" rx="12.6" ry="20" fill="#e0e9ed" stroke="#18212c" stroke-width="1" transform="rotate(-32 650.6 831.8)"/>
<ellipse cx="650" cy="832.4" rx="9" ry="15" fill="#8a9fac" stroke="#18212c" stroke-width="1.1" transform="rotate(-32 650 832.4)"/>
<ellipse cx="649.6" cy="832.8" rx="5.4" ry="9.6" fill="#e0e9ed" stroke="#18212c" stroke-width="0.9" transform="rotate(-32 649.6 832.8)"/>
<path d="M645,826 L655,838" fill="none" stroke="#f4f8f9" stroke-width="2.2" stroke-linejoin="round" stroke-linecap="round" />
<ellipse cx="647" cy="836" rx="1.6" ry="1.6" fill="#5f7482" stroke="#18212c" stroke-width="0.8"/>
<polygon points="662.0,789.0 668.0,783.0 673.0,786.0 670.0,794.0" fill="#a7bac6" stroke="#18212c" stroke-width="1" stroke-linejoin="round" />
<path d="M669.5,857 Q690,848 725.5,866 L721.5,897 Q694,918 666.5,888 Z" fill="#c6d4dc" stroke="#18212c" stroke-width="1.3" stroke-linejoin="round" stroke-linecap="round" />
<path d="M669.5,857 Q697,872 725.5,866" fill="none" stroke="#18212c" stroke-width="2.6" stroke-linejoin="round" stroke-linecap="round" />
<path d="M668.8,862.5 Q696,878.5 724.6,872.5" fill="none" stroke="#18212c" stroke-width="1.1" stroke-linejoin="round" stroke-linecap="round" />
<path d="M700,869 L716,869 L713,898 L700,902 Z" fill="#e0e9ed" stroke="none" stroke-width="1.1" stroke-linejoin="round" stroke-linecap="round" />
<path d="M672,864 L680,868 L677,892 L669,886 Z" fill="#a7bac6" stroke="none" stroke-width="1.1" stroke-linejoin="round" stroke-linecap="round" />
<ellipse cx="694" cy="892.5" rx="27.6" ry="15" fill="#c6d4dc" stroke="#18212c" stroke-width="1.5" transform="rotate(10 694 892.5)"/>
<ellipse cx="694.4" cy="892.8" rx="24.2" ry="12.2" fill="#e0e9ed" stroke="#18212c" stroke-width="1.2" transform="rotate(10 694.4 892.8)"/>
<path d="M672,889 Q678,880 690,880.5 L684,903 Q675,899 672,889 Z" fill="#a7bac6" stroke="none" stroke-width="1.1" stroke-linejoin="round" stroke-linecap="round" />
<path d="M704,882.5 Q716,886 718,897 Q712,903 700,905 Z" fill="#a7bac6" stroke="none" stroke-width="1.1" stroke-linejoin="round" stroke-linecap="round" />
<path d="M738.4,852 Q764,842 796.5,851 L790,880 Q764,896 740,874 Z" fill="#a7bac6" stroke="#18212c" stroke-width="1.3" stroke-linejoin="round" stroke-linecap="round" />
<path d="M738.4,852 Q766,862 796.5,851" fill="none" stroke="#18212c" stroke-width="2.2" stroke-linejoin="round" stroke-linecap="round" />
<path d="M739.0,855.0 Q766,863.5 796.0,854.0" fill="none" stroke="#18212c" stroke-width="1" stroke-linejoin="round" stroke-linecap="round" />
<path d="M739.1,858.0 Q766,866.5 795.2,857.0" fill="none" stroke="#18212c" stroke-width="1" stroke-linejoin="round" stroke-linecap="round" />
<path d="M739.3,861.0 Q766,869.5 794.4,860.0" fill="none" stroke="#18212c" stroke-width="1" stroke-linejoin="round" stroke-linecap="round" />
<path d="M739.5,864.0 Q766,872.5 793.6,863.0" fill="none" stroke="#18212c" stroke-width="1" stroke-linejoin="round" stroke-linecap="round" />
<path d="M739.6,867.0 Q766,875.5 792.8,866.0" fill="none" stroke="#18212c" stroke-width="1" stroke-linejoin="round" stroke-linecap="round" />
<path d="M739.8,870.0 Q766,878.5 792.0,869.0" fill="none" stroke="#18212c" stroke-width="1" stroke-linejoin="round" stroke-linecap="round" />
<path d="M739.9,873.0 Q766,881.5 791.2,872.0" fill="none" stroke="#18212c" stroke-width="1" stroke-linejoin="round" stroke-linecap="round" />
<ellipse cx="764" cy="878.6" rx="25.5" ry="10.6" fill="#c6d4dc" stroke="#18212c" stroke-width="1.4" transform="rotate(9 764 878.6)"/>
<ellipse cx="764.3" cy="879" rx="22.5" ry="8.6" fill="#e0e9ed" stroke="#18212c" stroke-width="1.1" transform="rotate(9 764.3 879)"/>
<path d="M742,876 Q750,870 762,870.5 L757,886 Q746,884 742,876 Z" fill="#a7bac6" stroke="none" stroke-width="1.1" stroke-linejoin="round" stroke-linecap="round" />
<path d="M639.4,758.4 L648.2,747.9 L679.7,729.4 L716.8,710 L753.9,688.2 L806.8,655.5 L851.9,628 L889,604.5 Q896,618 893,636 Q886,668 868,690 L855.2,704 L822.9,717 L808.4,721.8 L780,739 L749,755.2 L710.3,771.3 L684.5,776.1 L652.3,771.3 Z" fill="#f4f8f9" stroke="#18212c" stroke-width="1.3" stroke-linejoin="round" stroke-linecap="round" />
<path d="M650,752 L690,730 L704,733 L666,758 Z" fill="#c6d4dc" stroke="none" stroke-width="1.1" stroke-linejoin="round" stroke-linecap="round" />
<path d="M700,728 L742,704 L766,692 L772,700 L740,716 Z" fill="#c6d4dc" stroke="none" stroke-width="1.1" stroke-linejoin="round" stroke-linecap="round" />
<path d="M742,762 L800,732 L808.4,721.8 L780,739 L749,755.2 L716,768 Z" fill="#c6d4dc" stroke="none" stroke-width="1.1" stroke-linejoin="round" stroke-linecap="round" />
<path d="M660,766 L700,770 L730,760 L700,764 Z" fill="#e0e9ed" stroke="none" stroke-width="1.1" stroke-linejoin="round" stroke-linecap="round" />
<path d="M688,757 L688,767 M688,767 L707,762 L707,759" fill="none" stroke="#18212c" stroke-width="0.9" stroke-linejoin="round" stroke-linecap="round" />
<path d="M639.4,758.4 Q642,774 684.5,777.5 L711,772.5 L750,756.5 L781,740.5 L809,723.5" fill="none" stroke="#18212c" stroke-width="2.8" stroke-linejoin="round" stroke-linecap="round" />
<path d="M642,756 Q648,768.5 684,771.6 L709.5,767 L748,751.5 L779,735.5 L806,719.5" fill="none" stroke="#18212c" stroke-width="1" stroke-linejoin="round" stroke-linecap="round" />
<path d="M770,694 L806.8,655.5 L851.9,628 L889,604.5 Q896,618 893,636 Q886,668 868,690 L855.2,704 L822.9,717 L808.4,721.8 L798,704 Z" fill="#a7bac6" stroke="#18212c" stroke-width="1.3" stroke-linejoin="round" stroke-linecap="round" />
<path d="M812,664 L838,648 L846,656 L826,690 L806,700 L796,688 Z" fill="#c6d4dc" stroke="#18212c" stroke-width="1.1" stroke-linejoin="round" stroke-linecap="round" />
<path d="M838,648 L870,628 L884,632 L876,660 L858,684 L832,696 L826,690 L846,656 Z" fill="#c6d4dc" stroke="#18212c" stroke-width="1.1" stroke-linejoin="round" stroke-linecap="round" />
<path d="M846,656 L866,644 L876,660 L858,684 L840,690 Z" fill="#f4f8f9" stroke="#18212c" stroke-width="1.1" stroke-linejoin="round" stroke-linecap="round" />
<path d="M820,668 L836,658 L832,672 L822,680 Z" fill="#f4f8f9" stroke="#18212c" stroke-width="0.9" stroke-linejoin="round" stroke-linecap="round" />
<path d="M866,644 L878,612 L888,608 L890,630 L876,660 Z" fill="#8a9fac" stroke="#18212c" stroke-width="1.1" stroke-linejoin="round" stroke-linecap="round" />
<path d="M866.5,650 L878,644 M866,654 L877,648.5 M865,658 L876,652.5 M864,662 L874.5,657 M863,666 L873,661 M862,670 L871,665.5" fill="none" stroke="#18212c" stroke-width="1.1" stroke-linejoin="round" stroke-linecap="round" />
<path d="M857,656 L858,662 L862,660" fill="none" stroke="#18212c" stroke-width="1" stroke-linejoin="round" stroke-linecap="round" />
<path d="M889,604.5 Q897,622 893,640 Q885,670 866,692" fill="none" stroke="#18212c" stroke-width="2.8" stroke-linejoin="round" stroke-linecap="round" />
<path d="M884,612 Q890,628 886,644 Q878,670 862,688" fill="none" stroke="#18212c" stroke-width="1.1" stroke-linejoin="round" stroke-linecap="round" />
<path d="M778,694 Q796,684 808,694 Q818,704 812,718" fill="#8a9fac" stroke="#18212c" stroke-width="1.3" stroke-linejoin="round" stroke-linecap="round" />
<path d="M774,704 Q790,694 800,702 Q806,710 802,722" fill="none" stroke="#18212c" stroke-width="2.8" stroke-linejoin="round" stroke-linecap="round" />
<path d="M782,698 Q792,692 800,698" fill="none" stroke="#5f7482" stroke-width="2.6" stroke-linejoin="round" stroke-linecap="round" />
<path d="M806,692 Q830,678 850,692 M812,706 Q834,692 856,702 M800,674 L832,656 M816,682 L848,664" fill="none" stroke="#18212c" stroke-width="1.5" stroke-linejoin="round" stroke-linecap="round" />
<path d="M822,708 Q838,700 850,704 L846,710 Q834,708 826,714 Z" fill="#5f7482" stroke="#18212c" stroke-width="1" stroke-linejoin="round" stroke-linecap="round" />
<path d="M840,640 L850,634 L856,646 L846,652 Z" fill="#8a9fac" stroke="#18212c" stroke-width="0.9" stroke-linejoin="round" stroke-linecap="round" />
<ellipse cx="789" cy="698" rx="7.5" ry="4.5" fill="#f4f8f9" stroke="#18212c" stroke-width="1.5" transform="rotate(-20 789 698)"/>
<ellipse cx="789" cy="698" rx="4.6" ry="2.4" fill="#c6d4dc" stroke="#18212c" stroke-width="0.9" transform="rotate(-20 789 698)"/>
<path d="M790,690 Q800,706 812,712 Q830,716 850,700 Q860,692 866,688" fill="none" stroke="#18212c" stroke-width="2.6" stroke-linejoin="round" stroke-linecap="round" />
<path d="M806,724 Q828,722 850,708 Q862,700 870,690" fill="none" stroke="#18212c" stroke-width="2.2" stroke-linejoin="round" stroke-linecap="round" />
<path d="M796,682 Q806,676 816,680 Q824,688 820,700" fill="none" stroke="#18212c" stroke-width="2" stroke-linejoin="round" stroke-linecap="round" />
<path d="M826,700 L858,684 M830,706 L860,690" fill="none" stroke="#18212c" stroke-width="1.1" stroke-linejoin="round" stroke-linecap="round" />
<path d="M678.0,737.0 q9,-8 22,-9 q4,4 -1,7 q-10,2 -16,9 q-5,0 -5,-7 z" fill="#e0e9ed" stroke="#18212c" stroke-width="1.2" stroke-linejoin="round" stroke-linecap="round" />
<path d="M684.0,738.0 q6,5 14,0" fill="none" stroke="#18212c" stroke-width="1.1" stroke-linejoin="round" stroke-linecap="round" />
<path d="M729.0,708.0 q9,-8 22,-9 q4,4 -1,7 q-10,2 -16,9 q-5,0 -5,-7 z" fill="#e0e9ed" stroke="#18212c" stroke-width="1.2" stroke-linejoin="round" stroke-linecap="round" />
<path d="M735.0,709.0 q6,5 14,0" fill="none" stroke="#18212c" stroke-width="1.1" stroke-linejoin="round" stroke-linecap="round" />
<path d="M799.0,659.0 q9,-8 22,-9 q4,4 -1,7 q-10,2 -16,9 q-5,0 -5,-7 z" fill="#e0e9ed" stroke="#18212c" stroke-width="1.2" stroke-linejoin="round" stroke-linecap="round" />
<path d="M805.0,660.0 q6,5 14,0" fill="none" stroke="#18212c" stroke-width="1.1" stroke-linejoin="round" stroke-linecap="round" />
<path d="M840.0,634.0 q9,-8 22,-9 q4,4 -1,7 q-10,2 -16,9 q-5,0 -5,-7 z" fill="#e0e9ed" stroke="#18212c" stroke-width="1.2" stroke-linejoin="round" stroke-linecap="round" />
<path d="M846.0,635.0 q6,5 14,0" fill="none" stroke="#18212c" stroke-width="1.1" stroke-linejoin="round" stroke-linecap="round" />
<path d="M692.0,736.0 q8,2 8,9 q-5,3 -10,-4" fill="none" stroke="#18212c" stroke-width="1.1" stroke-linejoin="round" stroke-linecap="round" />
<path d="M743.0,707.0 q8,2 8,9 q-5,3 -10,-4" fill="none" stroke="#18212c" stroke-width="1.1" stroke-linejoin="round" stroke-linecap="round" />
<polygon points="620.0,760.0 645.8,735.8 681.3,715.6 723.2,689.8 758.7,668.9 803.5,641.1 847.1,615.3 890.6,587.3 893.8,591.5 893.5,606.5 853.0,632.5 808.0,660.0 781.5,677.5 755.5,693.0 718.5,715.0 681.5,734.5 650.0,753.0 629.0,771.0" fill="#aec3d0" stroke="#18212c" stroke-width="1.2" stroke-linejoin="round" />
<path d="M624,762 L646.5,741 L682,720.5 L724,695 L759.5,674 L804,646.5 L848,620.5 L889,594" fill="none" stroke="#d6e2e9" stroke-width="0.8" stroke-linejoin="round" stroke-linecap="round" />
<path d="M648.0,735.0 l2.2,14" fill="none" stroke="#18212c" stroke-width="1.4" stroke-linejoin="round" stroke-linecap="round" />
<path d="M684.0,714.5 l2.2,14" fill="none" stroke="#18212c" stroke-width="1.4" stroke-linejoin="round" stroke-linecap="round" />
<path d="M722.0,691.0 l2.2,14" fill="none" stroke="#18212c" stroke-width="1.4" stroke-linejoin="round" stroke-linecap="round" />
<path d="M760.0,668.5 l2.2,14" fill="none" stroke="#18212c" stroke-width="1.4" stroke-linejoin="round" stroke-linecap="round" />
<path d="M804.0,641.0 l2.2,14" fill="none" stroke="#18212c" stroke-width="1.4" stroke-linejoin="round" stroke-linecap="round" />
<path d="M848.0,615.0 l2.2,14" fill="none" stroke="#18212c" stroke-width="1.4" stroke-linejoin="round" stroke-linecap="round" />
<path d="M880.0,595.0 l2.2,14" fill="none" stroke="#18212c" stroke-width="1.4" stroke-linejoin="round" stroke-linecap="round" />
<path d="M629,771 L640,762" fill="none" stroke="#18212c" stroke-width="1.2" stroke-linejoin="round" stroke-linecap="round" />
</g>
<g id="p_pipes">
<path d="M213,458 L226,451.5 C230.5,449 232,440 236,430 C240,421 246,420 256,415 L286,400 C296,395.5 306,404 316,402 C326,400 333,393 337.5,384 L344,366 C347,359 351,357 357,354 L374.5,344.5 L390,332.8 L421,314.2 C427.5,310 429,303 431.5,294.5 C434,287 437,284.6 442,283.3 L452,279.6 C460,276.5 468,269.5 472,265 C476,260 478,254 480,249 C482,245 484,244.3 490,243.2 L553,233" fill="none" stroke="#18212c" stroke-width="6.2" stroke-linecap="butt" stroke-linejoin="round"/>
<path d="M213,458 L226,451.5 C230.5,449 232,440 236,430 C240,421 246,420 256,415 L286,400 C296,395.5 306,404 316,402 C326,400 333,393 337.5,384 L344,366 C347,359 351,357 357,354 L374.5,344.5 L390,332.8 L421,314.2 C427.5,310 429,303 431.5,294.5 C434,287 437,284.6 442,283.3 L452,279.6 C460,276.5 468,269.5 472,265 C476,260 478,254 480,249 C482,245 484,244.3 490,243.2 L553,233" fill="none" stroke="#cbd8df" stroke-width="2.70" stroke-linecap="butt" stroke-linejoin="round"/>
<path d="M213,458 L226,451.5 C230.5,449 232,440 236,430 C240,421 246,420 256,415 L286,400 C296,395.5 306,404 316,402 C326,400 333,393 337.5,384 L344,366 C347,359 351,357 357,354 L374.5,344.5 L390,332.8 L421,314.2 C427.5,310 429,303 431.5,294.5 C434,287 437,284.6 442,283.3 L452,279.6 C460,276.5 468,269.5 472,265 C476,260 478,254 480,249 C482,245 484,244.3 490,243.2 L553,233" fill="none" stroke="#e6edf1" stroke-width="1.13" stroke-linecap="butt" stroke-linejoin="round"/>
<path d="M372.5,345.6 L376.5,343.2" fill="none" stroke="#18212c" stroke-width="7.4" stroke-linecap="butt" stroke-linejoin="round"/>
<path d="M372.5,345.6 L376.5,343.2" fill="none" stroke="#b7c5cd" stroke-width="3.88" stroke-linecap="butt" stroke-linejoin="round"/>
<path d="M372.5,345.6 L376.5,343.2" fill="none" stroke="#dbe3e8" stroke-width="1.63" stroke-linecap="butt" stroke-linejoin="round"/>
<path d="M572,231 L577,228 Q584,221.5 592,221 L604,221 Q610,221.5 616,225 L641,237" fill="none" stroke="#18212c" stroke-width="6.4" stroke-linecap="butt" stroke-linejoin="round"/>
<path d="M572,231 L577,228 Q584,221.5 592,221 L604,221 Q610,221.5 616,225 L641,237" fill="none" stroke="#b7c5cd" stroke-width="2.76" stroke-linecap="butt" stroke-linejoin="round"/>
<path d="M572,231 L577,228 Q584,221.5 592,221 L604,221 Q610,221.5 616,225 L641,237" fill="none" stroke="#dbe3e8" stroke-width="1.16" stroke-linecap="butt" stroke-linejoin="round"/>
<path d="M553,233.2 L572,231" fill="none" stroke="#18212c" stroke-width="9" stroke-linecap="butt" stroke-linejoin="round"/>
<path d="M553,233.2 L572,231" fill="none" stroke="#b7c5cd" stroke-width="5.36" stroke-linecap="butt" stroke-linejoin="round"/>
<path d="M553,233.2 L572,231" fill="none" stroke="#dbe3e8" stroke-width="2.25" stroke-linecap="butt" stroke-linejoin="round"/>
<path d="M639,236.6 L664.5,246" fill="none" stroke="#18212c" stroke-width="6.6" stroke-linejoin="round" stroke-linecap="round" stroke-dasharray="3.4 1"/>
<path d="M639,236.6 L664.5,246" fill="none" stroke="#18212c" stroke-width="3.6" stroke-linejoin="round" stroke-linecap="round" />
<path d="M640,237 L648,240" fill="none" stroke="#8fa2ad" stroke-width="3" stroke-linejoin="round" stroke-linecap="round" />
<path d="M649,236 L652.6,227" fill="none" stroke="#18212c" stroke-width="3.4" stroke-linejoin="round" stroke-linecap="round" />
<path d="M524.5,310 Q524.3,299.5 528,294 Q531,289.5 536,286.4 L550.3,277.5 L574.5,264.5 L590,258 Q597,255.6 606.8,257 Q614,258.5 622.9,262.8 L641.3,272" fill="none" stroke="#18212c" stroke-width="7.8" stroke-linecap="butt" stroke-linejoin="round"/>
<path d="M524.5,310 Q524.3,299.5 528,294 Q531,289.5 536,286.4 L550.3,277.5 L574.5,264.5 L590,258 Q597,255.6 606.8,257 Q614,258.5 622.9,262.8 L641.3,272" fill="none" stroke="#c3d0d8" stroke-width="4.20" stroke-linecap="butt" stroke-linejoin="round"/>
<path d="M524.5,310 Q524.3,299.5 528,294 Q531,289.5 536,286.4 L550.3,277.5 L574.5,264.5 L590,258 Q597,255.6 606.8,257 Q614,258.5 622.9,262.8 L641.3,272" fill="none" stroke="#e2e9ed" stroke-width="1.76" stroke-linecap="butt" stroke-linejoin="round"/>
<path d="M524.5,308.5 L525.3,321 Q526,328 530,333" fill="none" stroke="#18212c" stroke-width="11.6" stroke-linecap="butt" stroke-linejoin="round"/>
<path d="M524.5,308.5 L525.3,321 Q526,328 530,333" fill="none" stroke="#b7c5cd" stroke-width="7.80" stroke-linecap="butt" stroke-linejoin="round"/>
<path d="M524.5,308.5 L525.3,321 Q526,328 530,333" fill="none" stroke="#dbe3e8" stroke-width="3.28" stroke-linecap="butt" stroke-linejoin="round"/>
<path d="M639,270.6 L657,280" fill="none" stroke="#18212c" stroke-width="10" stroke-linecap="butt" stroke-linejoin="round"/>
<path d="M639,270.6 L657,280" fill="none" stroke="#b7c5cd" stroke-width="6.20" stroke-linecap="butt" stroke-linejoin="round"/>
<path d="M639,270.6 L657,280" fill="none" stroke="#dbe3e8" stroke-width="2.60" stroke-linecap="butt" stroke-linejoin="round"/>
<path d="M679,250.5 Q700,262 729.5,273.3" fill="none" stroke="#18212c" stroke-width="11.4" stroke-linecap="round" stroke-linejoin="round"/>
<path d="M679,250.5 Q700,262 729.5,273.3" fill="none" stroke="#aebcc5" stroke-width="6.80" stroke-linecap="round" stroke-linejoin="round"/>
<path d="M679,250.5 Q700,262 729.5,273.3" fill="none" stroke="#cfd9df" stroke-width="2.86" stroke-linecap="round" stroke-linejoin="round"/>
<ellipse cx="729.3" cy="273.4" rx="2.6" ry="4.6" fill="#4a5a66" stroke="#18212c" stroke-width="1" transform="rotate(-25 729.3 273.4)"/>
<path d="M761.5,293.3 L776.3,302.7 L792,312.3 Q800,317 805.3,318.4 Q812,320 819.8,320.8 Q826,323 831.9,328.1 Q837,332 839.2,335.3 Q842,339 841,343.8 Q840,349 836.8,354.7 L829.5,366.8 Q825,373 817.4,377.7 L807.7,384.9 Q803.5,388.5 805.3,392.2 Q806.5,396 810,398.6" fill="none" stroke="#18212c" stroke-width="7.4" stroke-linecap="butt" stroke-linejoin="round"/>
<path d="M761.5,293.3 L776.3,302.7 L792,312.3 Q800,317 805.3,318.4 Q812,320 819.8,320.8 Q826,323 831.9,328.1 Q837,332 839.2,335.3 Q842,339 841,343.8 Q840,349 836.8,354.7 L829.5,366.8 Q825,373 817.4,377.7 L807.7,384.9 Q803.5,388.5 805.3,392.2 Q806.5,396 810,398.6" fill="none" stroke="#c3d0d8" stroke-width="3.80" stroke-linecap="butt" stroke-linejoin="round"/>
<path d="M761.5,293.3 L776.3,302.7 L792,312.3 Q800,317 805.3,318.4 Q812,320 819.8,320.8 Q826,323 831.9,328.1 Q837,332 839.2,335.3 Q842,339 841,343.8 Q840,349 836.8,354.7 L829.5,366.8 Q825,373 817.4,377.7 L807.7,384.9 Q803.5,388.5 805.3,392.2 Q806.5,396 810,398.6" fill="none" stroke="#e2e9ed" stroke-width="1.60" stroke-linecap="butt" stroke-linejoin="round"/>
<path d="M823,396.6 L836.8,403 Q843.5,406 842.8,409.6 Q842,414 837,417 L826,422" fill="none" stroke="#18212c" stroke-width="7.4" stroke-linecap="butt" stroke-linejoin="round"/>
<path d="M823,396.6 L836.8,403 Q843.5,406 842.8,409.6 Q842,414 837,417 L826,422" fill="none" stroke="#c3d0d8" stroke-width="3.80" stroke-linecap="butt" stroke-linejoin="round"/>
<path d="M823,396.6 L836.8,403 Q843.5,406 842.8,409.6 Q842,414 837,417 L826,422" fill="none" stroke="#e2e9ed" stroke-width="1.60" stroke-linecap="butt" stroke-linejoin="round"/>
<path d="M809.4,398.9 L824,396.3" fill="none" stroke="#18212c" stroke-width="10.8" stroke-linecap="butt" stroke-linejoin="round"/>
<path d="M809.4,398.9 L824,396.3" fill="none" stroke="#b7c5cd" stroke-width="7.00" stroke-linecap="butt" stroke-linejoin="round"/>
<path d="M809.4,398.9 L824,396.3" fill="none" stroke="#dbe3e8" stroke-width="2.94" stroke-linecap="butt" stroke-linejoin="round"/>
<ellipse cx="825.6" cy="422.2" rx="2.5" ry="3.6" fill="#5a6a76" stroke="#18212c" stroke-width="1.4" transform="rotate(-25 825.6 422.2)"/>
<path d="M742.8,282.3 L762,292.6" fill="none" stroke="#18212c" stroke-width="6.6" stroke-linejoin="round" stroke-linecap="round" stroke-dasharray="3.4 1"/>
<path d="M742.8,282.3 L762,292.6" fill="none" stroke="#18212c" stroke-width="3.6" stroke-linejoin="round" stroke-linecap="round" />
<path d="M763.5,290.5 L770.6,282.5" fill="none" stroke="#18212c" stroke-width="3.6" stroke-linejoin="round" stroke-linecap="round" />
<path d="M213.5,457.6 L198,463.6 Q189.5,468 187.5,477 L172.2,550 Q170,560 176.5,567.5 L186.5,578" fill="none" stroke="#18212c" stroke-width="10.4" stroke-linecap="butt" stroke-linejoin="round"/>
<path d="M213.5,457.6 L198,463.6 Q189.5,468 187.5,477 L172.2,550 Q170,560 176.5,567.5 L186.5,578" fill="none" stroke="#b7c5cd" stroke-width="6.88" stroke-linecap="butt" stroke-linejoin="round"/>
<path d="M213.5,457.6 L198,463.6 Q189.5,468 187.5,477 L172.2,550 Q170,560 176.5,567.5 L186.5,578" fill="none" stroke="#dbe3e8" stroke-width="2.89" stroke-linecap="butt" stroke-linejoin="round"/>
<path d="M204.6,455.5 L208,466" fill="none" stroke="#18212c" stroke-width="1.1" stroke-linejoin="round" stroke-linecap="round" />
<path d="M188,580 L207,597.5" fill="none" stroke="#18212c" stroke-width="13.4" stroke-linecap="butt" stroke-linejoin="round"/>
<path d="M188,580 L207,597.5" fill="none" stroke="#b7c5cd" stroke-width="9.76" stroke-linecap="butt" stroke-linejoin="round"/>
<path d="M188,580 L207,597.5" fill="none" stroke="#dbe3e8" stroke-width="4.10" stroke-linecap="butt" stroke-linejoin="round"/>
<path d="M205,595.5 Q212.5,602 213.5,608 L215,616" fill="none" stroke="#18212c" stroke-width="8.4" stroke-linecap="butt" stroke-linejoin="round"/>
<path d="M205,595.5 Q212.5,602 213.5,608 L215,616" fill="none" stroke="#b7c5cd" stroke-width="4.88" stroke-linecap="butt" stroke-linejoin="round"/>
<path d="M205,595.5 Q212.5,602 213.5,608 L215,616" fill="none" stroke="#dbe3e8" stroke-width="2.05" stroke-linecap="butt" stroke-linejoin="round"/>
<path d="M212.5,604 Q215,610 215.3,616 L216,640 Q215.2,660 216.3,681 L221,746.5" fill="none" stroke="#18212c" stroke-width="7.4" stroke-linecap="butt" stroke-linejoin="round"/>
<path d="M212.5,604 Q215,610 215.3,616 L216,640 Q215.2,660 216.3,681 L221,746.5" fill="none" stroke="#b7c5cd" stroke-width="3.76" stroke-linecap="butt" stroke-linejoin="round"/>
<path d="M212.5,604 Q215,610 215.3,616 L216,640 Q215.2,660 216.3,681 L221,746.5" fill="none" stroke="#dbe3e8" stroke-width="1.58" stroke-linecap="butt" stroke-linejoin="round"/>
<path d="M215.2,614 L216.2,639" fill="none" stroke="#18212c" stroke-width="10.6" stroke-linecap="butt" stroke-linejoin="round"/>
<path d="M215.2,614 L216.2,639" fill="none" stroke="#b7c5cd" stroke-width="7.36" stroke-linecap="butt" stroke-linejoin="round"/>
<path d="M215.2,614 L216.2,639" fill="none" stroke="#dbe3e8" stroke-width="3.09" stroke-linecap="butt" stroke-linejoin="round"/>
<path d="M217.4,741.5 L224.6,741" fill="none" stroke="#18212c" stroke-width="1" stroke-linejoin="round" stroke-linecap="round" />
<path d="M542.6,659 Q543,668 540.5,673.5 Q538,678.5 532,682 L486,711 L453,736 Q436,750 433,760 Q431,767 432.5,778 L437,788 Q446,826 443.5,834 Q441,848 436.5,857.5 L416.5,884.5 Q412.5,892 413,900 L414.2,912 L423,936.5" fill="none" stroke="#18212c" stroke-width="7.6" stroke-linecap="butt" stroke-linejoin="round"/>
<path d="M542.6,659 Q543,668 540.5,673.5 Q538,678.5 532,682 L486,711 L453,736 Q436,750 433,760 Q431,767 432.5,778 L437,788 Q446,826 443.5,834 Q441,848 436.5,857.5 L416.5,884.5 Q412.5,892 413,900 L414.2,912 L423,936.5" fill="none" stroke="#b7c5cd" stroke-width="3.82" stroke-linecap="butt" stroke-linejoin="round"/>
<path d="M542.6,659 Q543,668 540.5,673.5 Q538,678.5 532,682 L486,711 L453,736 Q436,750 433,760 Q431,767 432.5,778 L437,788 Q446,826 443.5,834 Q441,848 436.5,857.5 L416.5,884.5 Q412.5,892 413,900 L414.2,912 L423,936.5" fill="none" stroke="#dbe3e8" stroke-width="1.60" stroke-linecap="butt" stroke-linejoin="round"/>
<path d="M542.5,660.5 L542.5,667" fill="none" stroke="#18212c" stroke-width="8.4" stroke-linecap="butt" stroke-linejoin="round"/>
<path d="M542.5,660.5 L542.5,667" fill="none" stroke="#b7c5cd" stroke-width="5.16" stroke-linecap="butt" stroke-linejoin="round"/>
<path d="M542.5,660.5 L542.5,667" fill="none" stroke="#dbe3e8" stroke-width="2.17" stroke-linecap="butt" stroke-linejoin="round"/>
<path d="M423.2,936.5 L424.4,1014" fill="none" stroke="#18212c" stroke-width="11" stroke-linecap="butt" stroke-linejoin="round"/>
<path d="M423.2,936.5 L424.4,1014" fill="none" stroke="#b7c5cd" stroke-width="7.48" stroke-linecap="butt" stroke-linejoin="round"/>
<path d="M423.2,936.5 L424.4,1014" fill="none" stroke="#dbe3e8" stroke-width="3.14" stroke-linecap="butt" stroke-linejoin="round"/>
<path d="M424.6,1014 L425.6,1024.5" fill="none" stroke="#18212c" stroke-width="7" stroke-linecap="butt" stroke-linejoin="round"/>
<path d="M424.6,1014 L425.6,1024.5" fill="none" stroke="#b7c5cd" stroke-width="3.76" stroke-linecap="butt" stroke-linejoin="round"/>
<path d="M424.6,1014 L425.6,1024.5" fill="none" stroke="#dbe3e8" stroke-width="1.58" stroke-linecap="butt" stroke-linejoin="round"/>
<path d="M562,608.2 L552,611.5 Q546,614.5 545,621 L542.8,634.5" fill="none" stroke="#18212c" stroke-width="11" stroke-linecap="round" stroke-linejoin="round"/>
<path d="M562,608.2 L552,611.5 Q546,614.5 545,621 L542.8,634.5" fill="none" stroke="#7d919e" stroke-width="7.20" stroke-linecap="round" stroke-linejoin="round"/>
<path d="M562,608.2 L552,611.5 Q546,614.5 545,621 L542.8,634.5" fill="none" stroke="#a9bac5" stroke-width="3.02" stroke-linecap="round" stroke-linejoin="round"/>
<path d="M537.6,632.5 L548,634.5" fill="none" stroke="#18212c" stroke-width="2.2" stroke-linejoin="round" stroke-linecap="round" />
<path d="M222.5,877.5 L222.5,889 Q222.5,898.5 231.5,898.5 Q240.5,898.5 240.5,889 L240.5,874" fill="none" stroke="#18212c" stroke-width="11" stroke-linecap="butt" stroke-linejoin="round"/>
<path d="M222.5,877.5 L222.5,889 Q222.5,898.5 231.5,898.5 Q240.5,898.5 240.5,889 L240.5,874" fill="none" stroke="#a3b3bd" stroke-width="6.60" stroke-linecap="butt" stroke-linejoin="round"/>
<path d="M222.5,877.5 L222.5,889 Q222.5,898.5 231.5,898.5 Q240.5,898.5 240.5,889 L240.5,874" fill="none" stroke="#c9d4da" stroke-width="2.77" stroke-linecap="butt" stroke-linejoin="round"/>
<ellipse cx="222.5" cy="877.6" rx="4.2" ry="2.4" fill="#5d6e7a" stroke="#18212c" stroke-width="1.3"/>
<ellipse cx="240.5" cy="874.2" rx="4.2" ry="2.4" fill="#5d6e7a" stroke="#18212c" stroke-width="1.3"/>
<path d="M426,1059.5 L426.5,1066 Q428,1074 438,1072.5 Q449.5,1070.5 449.6,1062 L449.6,1054.5" fill="none" stroke="#18212c" stroke-width="11" stroke-linecap="butt" stroke-linejoin="round"/>
<path d="M426,1059.5 L426.5,1066 Q428,1074 438,1072.5 Q449.5,1070.5 449.6,1062 L449.6,1054.5" fill="none" stroke="#a3b3bd" stroke-width="6.60" stroke-linecap="butt" stroke-linejoin="round"/>
<path d="M426,1059.5 L426.5,1066 Q428,1074 438,1072.5 Q449.5,1070.5 449.6,1062 L449.6,1054.5" fill="none" stroke="#c9d4da" stroke-width="2.77" stroke-linecap="butt" stroke-linejoin="round"/>
<ellipse cx="426" cy="1059.4" rx="4.2" ry="2.5" fill="#5d6e7a" stroke="#18212c" stroke-width="1.3"/>
<ellipse cx="449.6" cy="1054.4" rx="4.2" ry="2.5" fill="#5d6e7a" stroke="#18212c" stroke-width="1.3"/>
<path d="M447.5,1104.5 Q436,1112 433.5,1120 Q433,1133 447,1134.5 Q460.5,1134 461,1124 L461,1107" fill="none" stroke="#18212c" stroke-width="11" stroke-linecap="butt" stroke-linejoin="round"/>
<path d="M447.5,1104.5 Q436,1112 433.5,1120 Q433,1133 447,1134.5 Q460.5,1134 461,1124 L461,1107" fill="none" stroke="#a3b3bd" stroke-width="6.60" stroke-linecap="butt" stroke-linejoin="round"/>
<path d="M447.5,1104.5 Q436,1112 433.5,1120 Q433,1133 447,1134.5 Q460.5,1134 461,1124 L461,1107" fill="none" stroke="#c9d4da" stroke-width="2.77" stroke-linecap="butt" stroke-linejoin="round"/>
<path d="M446,1103 L438,1110" fill="none" stroke="#18212c" stroke-width="11.4" stroke-linecap="round" stroke-linejoin="round"/>
<path d="M446,1103 L438,1110" fill="none" stroke="#a3b3bd" stroke-width="7.00" stroke-linecap="round" stroke-linejoin="round"/>
<path d="M446,1103 L438,1110" fill="none" stroke="#c9d4da" stroke-width="2.94" stroke-linecap="round" stroke-linejoin="round"/>
<ellipse cx="461" cy="1107" rx="4.2" ry="2.5" fill="#5d6e7a" stroke="#18212c" stroke-width="1.3"/>
<path d="M477.5,1117 L478,1134 Q479,1142.5 488,1142.5 L504,1141.5 Q514,1140 516.5,1128 L518.8,1113.5" fill="none" stroke="#18212c" stroke-width="11" stroke-linecap="butt" stroke-linejoin="round"/>
<path d="M477.5,1117 L478,1134 Q479,1142.5 488,1142.5 L504,1141.5 Q514,1140 516.5,1128 L518.8,1113.5" fill="none" stroke="#a3b3bd" stroke-width="6.60" stroke-linecap="butt" stroke-linejoin="round"/>
<path d="M477.5,1117 L478,1134 Q479,1142.5 488,1142.5 L504,1141.5 Q514,1140 516.5,1128 L518.8,1113.5" fill="none" stroke="#c9d4da" stroke-width="2.77" stroke-linecap="butt" stroke-linejoin="round"/>
<ellipse cx="477.5" cy="1117" rx="4.2" ry="2.5" fill="#5d6e7a" stroke="#18212c" stroke-width="1.3"/>
<ellipse cx="518.8" cy="1113.6" rx="4.2" ry="2.3" fill="#8b9ca7" stroke="#18212c" stroke-width="1.3"/>
<path d="M205.5,925.5 L187,930.8 Q180,933.5 182,940 L186.5,951 L201,978" fill="none" stroke="#18212c" stroke-width="9" stroke-linecap="round" stroke-linejoin="round"/>
<path d="M205.5,925.5 L187,930.8 Q180,933.5 182,940 L186.5,951 L201,978" fill="none" stroke="#b7c5cd" stroke-width="5.36" stroke-linecap="round" stroke-linejoin="round"/>
<path d="M205.5,925.5 L187,930.8 Q180,933.5 182,940 L186.5,951 L201,978" fill="none" stroke="#dbe3e8" stroke-width="2.25" stroke-linecap="round" stroke-linejoin="round"/>
<path d="M262.5,955.5 L249,963 Q244,965 238,962.5 L212,949.5 Q204,946.5 201.5,953 Q200.5,958 207,970.5" fill="none" stroke="#18212c" stroke-width="9" stroke-linecap="round" stroke-linejoin="round"/>
<path d="M262.5,955.5 L249,963 Q244,965 238,962.5 L212,949.5 Q204,946.5 201.5,953 Q200.5,958 207,970.5" fill="none" stroke="#b7c5cd" stroke-width="5.36" stroke-linecap="round" stroke-linejoin="round"/>
<path d="M262.5,955.5 L249,963 Q244,965 238,962.5 L212,949.5 Q204,946.5 201.5,953 Q200.5,958 207,970.5" fill="none" stroke="#dbe3e8" stroke-width="2.25" stroke-linecap="round" stroke-linejoin="round"/>
<path d="M198.6,972.5 L220.5,1006.5" fill="none" stroke="#18212c" stroke-width="15" stroke-linecap="butt" stroke-linejoin="round"/>
<path d="M198.6,972.5 L220.5,1006.5" fill="none" stroke="#9fb0bb" stroke-width="10.60" stroke-linecap="butt" stroke-linejoin="round"/>
<path d="M198.6,972.5 L220.5,1006.5" fill="none" stroke="#c3d0d8" stroke-width="4.45" stroke-linecap="butt" stroke-linejoin="round"/>
<path d="M216,1004 L224,1020" fill="none" stroke="#18212c" stroke-width="6.4" stroke-linecap="butt" stroke-linejoin="round"/>
<path d="M216,1004 L224,1020" fill="none" stroke="#b7c5cd" stroke-width="3.16" stroke-linecap="butt" stroke-linejoin="round"/>
<path d="M216,1004 L224,1020" fill="none" stroke="#dbe3e8" stroke-width="1.33" stroke-linecap="butt" stroke-linejoin="round"/>
<path d="M223,1002 L234,1021" fill="none" stroke="#18212c" stroke-width="6.4" stroke-linecap="butt" stroke-linejoin="round"/>
<path d="M223,1002 L234,1021" fill="none" stroke="#b7c5cd" stroke-width="3.16" stroke-linecap="butt" stroke-linejoin="round"/>
<path d="M223,1002 L234,1021" fill="none" stroke="#dbe3e8" stroke-width="1.33" stroke-linecap="butt" stroke-linejoin="round"/>
<path d="M218.5,1020 Q206,1027 206,1037 Q207,1046 221,1047.5 Q232,1047.5 238.5,1041" fill="none" stroke="#18212c" stroke-width="9.6" stroke-linecap="butt" stroke-linejoin="round"/>
<path d="M218.5,1020 Q206,1027 206,1037 Q207,1046 221,1047.5 Q232,1047.5 238.5,1041" fill="none" stroke="#b7c5cd" stroke-width="5.96" stroke-linecap="butt" stroke-linejoin="round"/>
<path d="M218.5,1020 Q206,1027 206,1037 Q207,1046 221,1047.5 Q232,1047.5 238.5,1041" fill="none" stroke="#dbe3e8" stroke-width="2.50" stroke-linecap="butt" stroke-linejoin="round"/>
<path d="M223.5,1023.5 L224,1037" fill="none" stroke="#18212c" stroke-width="8" stroke-linecap="butt" stroke-linejoin="round"/>
<path d="M223.5,1023.5 L224,1037" fill="none" stroke="#9fb0bb" stroke-width="4.76" stroke-linecap="butt" stroke-linejoin="round"/>
<path d="M223.5,1023.5 L224,1037" fill="none" stroke="#dbe3e8" stroke-width="2.00" stroke-linecap="butt" stroke-linejoin="round"/>
<path d="M236.3,1025 L236.8,1040" fill="none" stroke="#18212c" stroke-width="8" stroke-linecap="butt" stroke-linejoin="round"/>
<path d="M236.3,1025 L236.8,1040" fill="none" stroke="#9fb0bb" stroke-width="4.76" stroke-linecap="butt" stroke-linejoin="round"/>
<path d="M236.3,1025 L236.8,1040" fill="none" stroke="#dbe3e8" stroke-width="2.00" stroke-linecap="butt" stroke-linejoin="round"/>
<ellipse cx="223.5" cy="1023.6" rx="3.2" ry="2" fill="#50606c" stroke="#18212c" stroke-width="1.2"/>
<ellipse cx="236.3" cy="1025.2" rx="3.2" ry="2" fill="#50606c" stroke="#18212c" stroke-width="1.2"/>
<path d="M678.5,198.8 L666,194.8 Q660.5,193.6 660.8,199 L662.3,206.5" fill="none" stroke="#18212c" stroke-width="9.4" stroke-linecap="round" stroke-linejoin="round"/>
<path d="M678.5,198.8 L666,194.8 Q660.5,193.6 660.8,199 L662.3,206.5" fill="none" stroke="#aebcc5" stroke-width="5.00" stroke-linecap="round" stroke-linejoin="round"/>
<path d="M678.5,198.8 L666,194.8 Q660.5,193.6 660.8,199 L662.3,206.5" fill="none" stroke="#d3dce1" stroke-width="2.10" stroke-linecap="round" stroke-linejoin="round"/>
<ellipse cx="679" cy="199" rx="1.8" ry="3.3" fill="#4a5a66" stroke="#18212c" stroke-width="1.1" transform="rotate(-15 679 199)"/>
<path d="M776,235 L797,242.2 Q806,246 802.5,253 L796,261.5" fill="none" stroke="#18212c" stroke-width="9.8" stroke-linecap="round" stroke-linejoin="round"/>
<path d="M776,235 L797,242.2 Q806,246 802.5,253 L796,261.5" fill="none" stroke="#aebcc5" stroke-width="5.40" stroke-linecap="round" stroke-linejoin="round"/>
<path d="M776,235 L797,242.2 Q806,246 802.5,253 L796,261.5" fill="none" stroke="#d3dce1" stroke-width="2.27" stroke-linecap="round" stroke-linejoin="round"/>
<ellipse cx="795.3" cy="262.2" rx="3.3" ry="2" fill="#3a4853" stroke="#18212c" stroke-width="1.1" transform="rotate(35 795.3 262.2)"/>
<path d="M803.5,437.6 L790,444.5" fill="none" stroke="#18212c" stroke-width="10.8" stroke-linecap="round" stroke-linejoin="round"/>
<path d="M803.5,437.6 L790,444.5" fill="none" stroke="#9fb0bb" stroke-width="6.40" stroke-linecap="round" stroke-linejoin="round"/>
<path d="M803.5,437.6 L790,444.5" fill="none" stroke="#c3d0d8" stroke-width="2.69" stroke-linecap="round" stroke-linejoin="round"/>
<path d="M790,444.5 L779,450.7" fill="none" stroke="#18212c" stroke-width="8.8" stroke-linecap="round" stroke-linejoin="round"/>
<path d="M790,444.5 L779,450.7" fill="none" stroke="#9fb0bb" stroke-width="4.60" stroke-linecap="round" stroke-linejoin="round"/>
<path d="M790,444.5 L779,450.7" fill="none" stroke="#c3d0d8" stroke-width="1.93" stroke-linecap="round" stroke-linejoin="round"/>
<ellipse cx="778.3" cy="451.2" rx="2.2" ry="3.4" fill="#4a5a66" stroke="#18212c" stroke-width="1.1" transform="rotate(-28 778.3 451.2)"/>
<path d="M220,565.5 L239.5,557" fill="none" stroke="#18212c" stroke-width="7.6" stroke-linecap="round" stroke-linejoin="round"/>
<path d="M220,565.5 L239.5,557" fill="none" stroke="#a9b9c3" stroke-width="4.22" stroke-linecap="round" stroke-linejoin="round"/>
<path d="M220,565.5 L239.5,557" fill="none" stroke="#dbe3e8" stroke-width="1.77" stroke-linecap="round" stroke-linejoin="round"/>
<ellipse cx="240.2" cy="556.8" rx="2.2" ry="3.2" fill="#5a6a76" stroke="#18212c" stroke-width="1.1" transform="rotate(-24 240.2 556.8)"/>
</g>
<g id="p_parts">
<path d="M335.3,282 L341,278.5 L346,279.5 L349.5,276.4 L353.5,277 L358,284 L359.6,290 L356,292.5 L350,293.5 L344.5,297 L340.5,296 L337,289 Z" fill="#18212c" stroke="#18212c" stroke-width="1" stroke-linejoin="round" stroke-linecap="round" />
<ellipse cx="348.4" cy="287.6" rx="1.7" ry="3.4" fill="#cfd9de" stroke="#18212c" stroke-width="0.6" transform="rotate(-32 348.4 287.6)"/>
<ellipse cx="353.2" cy="285" rx="2.2" ry="4.2" fill="#dfe6ea" stroke="#18212c" stroke-width="0.6" transform="rotate(-32 353.2 285)"/>
<ellipse cx="342.2" cy="290.5" rx="1" ry="2.2" fill="#b9c6cd" stroke="#18212c" stroke-width="0.5" transform="rotate(-32 342.2 290.5)"/>
<polygon points="215.1,505.1 222.4,502.1 232.7,503.0 239.3,519.6 236.3,522.1 226.6,524.8 220.0,516.6" fill="#18212c" stroke="#18212c" stroke-width="1" stroke-linejoin="round" />
<polygon points="225.4,509.0 231.3,506.8 237.6,518.8 232.1,522.2" fill="#cfd9df" stroke="#18212c" stroke-width="0.8" stroke-linejoin="round" />
<path d="M227,512.5 L231.5,510.8" fill="none" stroke="#18212c" stroke-width="1.1" stroke-linejoin="round" stroke-linecap="round" stroke-dasharray="1 0.8"/>
<path d="M226.5,530.3 L243.4,524" fill="none" stroke="#18212c" stroke-width="4.2" stroke-linejoin="round" stroke-linecap="round" />
<path d="M229,529 L241,524.6" fill="none" stroke="#9fb2be" stroke-width="0.9" stroke-linejoin="round" stroke-linecap="round" />
<path d="M230,523 L236,528" fill="none" stroke="#18212c" stroke-width="3" stroke-linejoin="round" stroke-linecap="round" />
<ellipse cx="237.4" cy="534" rx="3.1" ry="4.6" fill="#e6edf0" stroke="#18212c" stroke-width="2" transform="rotate(-28 237.4 534)"/>
<path d="M689.4,233.6 L686.6,226.6 L699.3,202.6 L703.5,200.5 L709.1,202.6 L712,208.2 L702.1,232.2 L696.4,235 Z" fill="#18212c" stroke="#18212c" stroke-width="1.4" stroke-linejoin="round" stroke-linecap="round" />
<path d="M690.3,231.5 L688.6,227 L700.3,204.6 L703.2,203.2 L705,204.6 L694.5,231 L692.6,232.6 Z" fill="#b9c7cf" stroke="#18212c" stroke-width="0.8" stroke-linejoin="round" stroke-linecap="round" />
<path d="M703.5,212 L706,213.2 L700.5,225.5 L698.6,224.2 Z" fill="#5d6e7a" stroke="#18212c" stroke-width="0.5" stroke-linejoin="round" stroke-linecap="round" />
<path d="M727,217.6 L763,230.8" fill="none" stroke="#18212c" stroke-width="5" stroke-linejoin="round" stroke-linecap="round" />
<path d="M728.4,218.1 L738,221.6" fill="none" stroke="#cfd9df" stroke-width="2.4" stroke-linejoin="round" stroke-linecap="round" />
<path d="M753,227.2 L761.6,230.3" fill="none" stroke="#cfd9df" stroke-width="2.2" stroke-linejoin="round" stroke-linecap="round" />
<path d="M757.5,228.5 L758.5,231.5" fill="none" stroke="#18212c" stroke-width="1.2" stroke-linejoin="round" stroke-linecap="round" />
<ellipse cx="745.6" cy="224.6" rx="5" ry="9.4" fill="#18212c" stroke="#18212c" stroke-width="1" transform="rotate(18 745.6 224.6)"/>
<ellipse cx="747.2" cy="225.2" rx="2.4" ry="6.2" fill="#7f929e" stroke="#18212c" stroke-width="0.8" transform="rotate(18 747.2 225.2)"/>
<path d="M684,292 L703.6,304.8" fill="none" stroke="#18212c" stroke-width="12.4" stroke-linecap="butt" stroke-linejoin="round"/>
<path d="M684,292 L703.6,304.8" fill="none" stroke="#8fa1ad" stroke-width="8.40" stroke-linecap="butt" stroke-linejoin="round"/>
<path d="M684,292 L703.6,304.8" fill="none" stroke="#b9c7cf" stroke-width="3.53" stroke-linecap="butt" stroke-linejoin="round"/>
<ellipse cx="704.2" cy="305.2" rx="3.6" ry="6.2" fill="#18212c" stroke="#18212c" stroke-width="1" transform="rotate(-30 704.2 305.2)"/>
<ellipse cx="704.6" cy="305.4" rx="1.6" ry="3.6" fill="#5d6e7a" stroke="#18212c" stroke-width="0.5" transform="rotate(-30 704.6 305.4)"/>
<path d="M679,298 Q683,312 688.5,330" fill="none" stroke="#18212c" stroke-width="10.6" stroke-linecap="butt" stroke-linejoin="round"/>
<path d="M679,298 Q683,312 688.5,330" fill="none" stroke="#b7c5cd" stroke-width="7.00" stroke-linecap="butt" stroke-linejoin="round"/>
<path d="M679,298 Q683,312 688.5,330" fill="none" stroke="#dbe3e8" stroke-width="2.94" stroke-linecap="butt" stroke-linejoin="round"/>
<path d="M681,309 L689,306.5 M683,315 L691,313" fill="none" stroke="#18212c" stroke-width="1.2" stroke-linejoin="round" stroke-linecap="round" />
<path d="M680.5,333 L698.5,333 L698.5,351 Q698.5,356.5 689.5,356.5 Q680.5,356.5 680.5,351 Z" fill="#8a9eab" stroke="#18212c" stroke-width="2.2" stroke-linejoin="round" stroke-linecap="round" />
<path d="M684,336 L688.5,336 L688.5,353 L684,352 Z" fill="#c3d0d8" stroke="none" stroke-width="1.1" stroke-linejoin="round" stroke-linecap="round" />
<path d="M680,351 Q689.5,357.5 699,351" fill="none" stroke="#18212c" stroke-width="2.2" stroke-linejoin="round" stroke-linecap="round" />
<path d="M680.5,334.5 Q689.5,339 698.5,334.5" fill="none" stroke="#18212c" stroke-width="1.2" stroke-linejoin="round" stroke-linecap="round" />
<ellipse cx="664.5" cy="284.8" rx="8.4" ry="13.2" fill="#18212c" stroke="#18212c" stroke-width="1" transform="rotate(-28 664.5 284.8)"/>
<ellipse cx="663.2" cy="284" rx="5.4" ry="9.8" fill="#6d808c" stroke="#18212c" stroke-width="0.8" transform="rotate(-28 663.2 284)"/>
<ellipse cx="662.6" cy="283.6" rx="3" ry="6.4" fill="#18212c" stroke="#18212c" stroke-width="0.5" transform="rotate(-28 662.6 283.6)"/>
<path d="M668,274 L680,278 L688,290 L688,300 L678,304 L669,297 Z" fill="#18212c" stroke="#18212c" stroke-width="1.2" stroke-linejoin="round" stroke-linecap="round" />
<path d="M675,283 L682,292" fill="none" stroke="#5d6e7a" stroke-width="1.6" stroke-linejoin="round" stroke-linecap="round" />
<path d="M524.6,326.5 Q524.5,336 532,341" fill="none" stroke="#18212c" stroke-width="10.4" stroke-linejoin="round" stroke-linecap="round" stroke-linecap="butt"/>
<path d="M527,333.6 L533,327.6 L536.6,331.6 L530.6,338.6 Z" fill="#c3d0d8" stroke="#18212c" stroke-width="1.6" stroke-linejoin="round" stroke-linecap="round" />
<path d="M532,331 L541,326.6 L549,328 L553.6,333.5 L553,346 L547,351.6 L538,352 L531.4,347 L530.4,338.6 Z" fill="#18212c" stroke="#18212c" stroke-width="1.2" stroke-linejoin="round" stroke-linecap="round" />
<path d="M537,331 L543.5,329.2 L547.5,334 L540.5,336.4 Z" fill="#c3d0d8" stroke="#18212c" stroke-width="0.8" stroke-linejoin="round" stroke-linecap="round" />
<path d="M533.4,340.6 L538,338.6 L540,349 L535.4,348 Z" fill="#8a9eab" stroke="#18212c" stroke-width="0.8" stroke-linejoin="round" stroke-linecap="round" />
<path d="M536,342 L537.6,348" fill="none" stroke="#18212c" stroke-width="1.2" stroke-linejoin="round" stroke-linecap="round" />
<ellipse cx="546.4" cy="342.6" rx="4.6" ry="6.6" fill="#8a9eab" stroke="#18212c" stroke-width="1.6" transform="rotate(-18 546.4 342.6)"/>
<ellipse cx="546" cy="343" rx="2.4" ry="4" fill="#18212c" stroke="#18212c" stroke-width="0.6" transform="rotate(-18 546 343)"/>
<path d="M549.5,334.5 L552,337 L551.6,344 L550,340 Z" fill="#9fb2be" stroke="#18212c" stroke-width="0.6" stroke-linejoin="round" stroke-linecap="round" />
<path d="M180,577 L190,571.5 L194,578 L184,584 Z" fill="#3c4a56" stroke="#18212c" stroke-width="1.2" stroke-linejoin="round" stroke-linecap="round" />
<path d="M190,575 L203,569.5" fill="none" stroke="#18212c" stroke-width="2.6" stroke-linejoin="round" stroke-linecap="round" />
<path d="M205.5,792 L210,797.5 L221,805.5 L228.5,800 L227.6,796 L218.6,790 Z" fill="#4d616e" stroke="#18212c" stroke-width="1.8" stroke-linejoin="round" stroke-linecap="round" />
<path d="M207.4,791.5 L211.6,779.2 Q214.5,776.6 217.6,779 L218.6,792 L213,794 Z" fill="#4d616e" stroke="#18212c" stroke-width="1.8" stroke-linejoin="round" stroke-linecap="round" />
<path d="M212.8,780.4 L216.2,780.2 L216.8,790.6 L213.4,791 Z" fill="#8096a4" stroke="none" stroke-width="1.1" stroke-linejoin="round" stroke-linecap="round" />
<path d="M221.2,797 L221.4,785 Q224,782.8 226.8,784.8 L227.8,799 L223.5,801.5 Z" fill="#4d616e" stroke="#18212c" stroke-width="1.8" stroke-linejoin="round" stroke-linecap="round" />
<path d="M222.8,786.4 L225.6,786.2 L226.2,797.4 L223.2,797.8 Z" fill="#8096a4" stroke="none" stroke-width="1.1" stroke-linejoin="round" stroke-linecap="round" />
<ellipse cx="183.4" cy="795.8" rx="6.6" ry="10" fill="#18212c" stroke="#18212c" stroke-width="1.4" transform="rotate(35 183.4 795.8)"/>
<path d="M186,796.8 L202.3,789.6 L218,805 L205.3,815.4 L179.1,802.3 Q181,797.5 186,796.8 Z" fill="#8096a4" stroke="#18212c" stroke-width="1.9" stroke-linejoin="round" stroke-linecap="round" />
<path d="M191,798 L201.5,793 L210.5,802 L200,808 Z" fill="#a3b7c3" stroke="none" stroke-width="1.1" stroke-linejoin="round" stroke-linecap="round" />
<ellipse cx="206.5" cy="798.7" rx="5.2" ry="3" fill="#b9c9d2" stroke="#18212c" stroke-width="1" transform="rotate(20 206.5 798.7)"/>
<path d="M179.1,802.3 L205.3,815.4 L207.6,826.5 L198.3,828 L181.1,816 Z" fill="#4d616e" stroke="#18212c" stroke-width="1.9" stroke-linejoin="round" stroke-linecap="round" />
<path d="M181.1,817.5 L198.3,828 L195.2,831.5 L186.2,833.5 L181.1,828.5 Z" fill="#37444f" stroke="#18212c" stroke-width="1.9" stroke-linejoin="round" stroke-linecap="round" />
<path d="M186.5,823 L186.5,832 M190.5,825 L190.5,832.5" fill="none" stroke="#5f7482" stroke-width="1" stroke-linejoin="round" stroke-linecap="round" />
<path d="M178.3,800.5 L179.1,802.3 L181.1,816 L181.1,828.5" fill="none" stroke="#18212c" stroke-width="2.6" stroke-linejoin="round" stroke-linecap="round" />
<g transform="translate(3 3.4)">
<ellipse cx="222" cy="814.5" rx="10.8" ry="14.4" fill="#3c4a56" stroke="#18212c" stroke-width="1.5" transform="rotate(-28 222 814.5)"/>
<ellipse cx="224.6" cy="817.2" rx="8.6" ry="12" fill="#5f7482" stroke="#18212c" stroke-width="1" transform="rotate(-28 224.6 817.2)"/>
<ellipse cx="227.5" cy="819.3" rx="6.8" ry="9.6" fill="#3c4a56" stroke="#18212c" stroke-width="1" transform="rotate(-28 227.5 819.3)"/>
<ellipse cx="229" cy="820.4" rx="5" ry="7.6" fill="#8a9fac" stroke="#18212c" stroke-width="0.9" transform="rotate(-28 229 820.4)"/>
<ellipse cx="232.6" cy="822.6" rx="4.6" ry="6.4" fill="#3c4a56" stroke="#18212c" stroke-width="1.1" transform="rotate(-28 232.6 822.6)"/>
<path d="M233,823 L239.5,826.5" fill="none" stroke="#18212c" stroke-width="6" stroke-linecap="round" stroke-linejoin="round"/>
<path d="M233,823 L239.5,826.5" fill="none" stroke="#c9d6dd" stroke-width="2.80" stroke-linecap="round" stroke-linejoin="round"/>
<path d="M233,823 L239.5,826.5" fill="none" stroke="#dbe3e8" stroke-width="1.18" stroke-linecap="round" stroke-linejoin="round"/>
</g>
<path d="M205.3,815.4 L207.3,825.5 L214,829 L216,812 Z" fill="#5f7482" stroke="#18212c" stroke-width="1" stroke-linejoin="round" stroke-linecap="round" />
<path d="M214.5,828 L222,834.5 L243,836 L244.5,830 L232,826 Z" fill="#3c4a56" stroke="#18212c" stroke-width="1.2" stroke-linejoin="round" stroke-linecap="round" />
<path d="M220.5,833 L220.5,846.5" fill="none" stroke="#18212c" stroke-width="6" stroke-linecap="butt" stroke-linejoin="round"/>
<path d="M220.5,833 L220.5,846.5" fill="none" stroke="#a9bbc7" stroke-width="2.76" stroke-linecap="butt" stroke-linejoin="round"/>
<path d="M220.5,833 L220.5,846.5" fill="none" stroke="#dbe3e8" stroke-width="1.16" stroke-linecap="butt" stroke-linejoin="round"/>
<path d="M231.5,833.5 L231.5,847" fill="none" stroke="#18212c" stroke-width="6.4" stroke-linecap="butt" stroke-linejoin="round"/>
<path d="M231.5,833.5 L231.5,847" fill="none" stroke="#a9bbc7" stroke-width="3.16" stroke-linecap="butt" stroke-linejoin="round"/>
<path d="M231.5,833.5 L231.5,847" fill="none" stroke="#dbe3e8" stroke-width="1.33" stroke-linecap="butt" stroke-linejoin="round"/>
<path d="M239.7,831 L239.7,848" fill="none" stroke="#18212c" stroke-width="5" stroke-linecap="butt" stroke-linejoin="round"/>
<path d="M239.7,831 L239.7,848" fill="none" stroke="#a9bbc7" stroke-width="1.76" stroke-linecap="butt" stroke-linejoin="round"/>
<path d="M239.7,831 L239.7,848" fill="none" stroke="#dbe3e8" stroke-width="0.74" stroke-linecap="butt" stroke-linejoin="round"/>
<ellipse cx="149" cy="861.5" rx="4.4" ry="5.4" fill="#3c4a56" stroke="#18212c" stroke-width="1.2" transform="rotate(-20 149 861.5)"/>
<path d="M152,859.5 L161,855" fill="none" stroke="#18212c" stroke-width="4.6" stroke-linejoin="round" stroke-linecap="round" />
<path d="M153,859.2 L160.5,855.3" fill="none" stroke="#8a9fac" stroke-width="2.2" stroke-linejoin="round" stroke-linecap="round" stroke-dasharray="1.2 1"/>
<ellipse cx="274.5" cy="797.5" rx="4.2" ry="4.8" fill="#3c4a56" stroke="#18212c" stroke-width="1.2" transform="rotate(-20 274.5 797.5)"/>
<path d="M277.5,796 L285,793.5" fill="none" stroke="#18212c" stroke-width="4.4" stroke-linejoin="round" stroke-linecap="round" />
<path d="M278,795.8 L284.5,793.6" fill="none" stroke="#8a9fac" stroke-width="2" stroke-linejoin="round" stroke-linecap="round" stroke-dasharray="1.2 1"/>
<polygon points="311.3,736.7 315.4,734.2 327.5,737.7 330.5,744.2 335.5,757.3 347.6,779.5 346.6,784.6 342.6,787.6 334.5,784.6 326.5,789.1 322.4,785.6 314.4,763.4 318.4,757.3 313.3,745.2" fill="#7f97a6" stroke="#18212c" stroke-width="2" stroke-linejoin="round" />
<path d="M312.5,737.5 L316,735.5 L327,738.5 L330,745 L332.5,756 L322,757 L318,752 L315,742 Z" fill="#18212c" stroke="#18212c" stroke-width="0.8" stroke-linejoin="round" stroke-linecap="round" />
<path d="M316.5,745 L320,755" fill="none" stroke="#7f97a6" stroke-width="2.2" stroke-linejoin="round" stroke-linecap="round" />
<path d="M335,778 L345.5,777 L346.5,784 L342.5,787 L335.5,784.5 Z" fill="#18212c" stroke="#18212c" stroke-width="0.8" stroke-linejoin="round" stroke-linecap="round" />
<path d="M337.5,781 L343.5,780.5" fill="none" stroke="#7f97a6" stroke-width="1" stroke-linejoin="round" stroke-linecap="round" stroke-dasharray="1 1"/>
<path d="M318.4,757.3 L331,782 M323,757 L335.5,781.5 M327.5,757 L338,777" fill="none" stroke="#18212c" stroke-width="1.2" stroke-linejoin="round" stroke-linecap="round" />
<polygon points="334.5,789.6 347.6,785.6 353.7,779.5 358.7,778.0 362.7,781.5 360.7,789.6 350.6,798.7 340.6,801.7 336.5,795.6" fill="#7f97a6" stroke="#18212c" stroke-width="2" stroke-linejoin="round" />
<path d="M353.7,779.5 L358.7,778 L362.7,781.5 L361.5,787 L356,785 Z" fill="#18212c" stroke="#18212c" stroke-width="0.8" stroke-linejoin="round" stroke-linecap="round" />
<polygon points="286.6,734.7 290.2,731.6 299.2,732.6 302.8,736.7 303.3,744.2 310.3,758.3 314.4,763.4 322.4,785.6 326.5,789.1 318.4,787.6 303.3,780.5 293.2,777.5 288.6,773.5 288.1,767.4 291.7,763.4 295.2,762.4 296.7,757.3 293.2,748.3 288.1,740.2" fill="#7f97a6" stroke="#18212c" stroke-width="2" stroke-linejoin="round" />
<ellipse cx="295.4" cy="738.4" rx="3.6" ry="4.2" fill="#18212c" stroke="#18212c" stroke-width="0.8" transform="rotate(-30 295.4 738.4)"/>
<ellipse cx="294.2" cy="773.3" rx="3.2" ry="3.6" fill="#18212c" stroke="#18212c" stroke-width="0.8" transform="rotate(-20 294.2 773.3)"/>
<path d="M301.5,768 L306.5,764.5 L310.5,771 L306,776 Z" fill="#fdfffe" stroke="#18212c" stroke-width="1.6" stroke-linejoin="round" stroke-linecap="round" />
<path d="M314.4,763.4 L322.4,785.6" fill="none" stroke="#18212c" stroke-width="2" stroke-linejoin="round" stroke-linecap="round" />
<path d="M469.6,735 L476,729 L483,728.4 L486.4,734 L484,741 L477,745.8 L471.5,743 Z" fill="#18212c" stroke="#18212c" stroke-width="1" stroke-linejoin="round" stroke-linecap="round" />
<path d="M475.6,732 L480,731" fill="none" stroke="#b7c7d0" stroke-width="1.4" stroke-linejoin="round" stroke-linecap="round" />
<path d="M473.5,739.5 L475,742" fill="none" stroke="#b7c7d0" stroke-width="1.2" stroke-linejoin="round" stroke-linecap="round" />
<path d="M480,739 L488,748" fill="none" stroke="#18212c" stroke-width="4.6" stroke-linejoin="round" stroke-linecap="round" />
<path d="M481.5,741.5 L485.5,746" fill="none" stroke="#c3d0d8" stroke-width="1.2" stroke-linejoin="round" stroke-linecap="round" />
<path d="M479.4,750 L484,745 L488,748 L493,742.5 L496,746 L492.5,750 L495,754 L489,756.6 L485,753 L482,755.5 Z" fill="#18212c" stroke="#18212c" stroke-width="1" stroke-linejoin="round" stroke-linecap="round" />
<path d="M468.4,843 L474,839.4 L481,840 L483.5,846 L480,853 L474.5,856.5 L470,852 Z" fill="#37444f" stroke="#18212c" stroke-width="1.8" stroke-linejoin="round" stroke-linecap="round" />
<path d="M473,843.5 Q477,842 479.5,845.5" fill="none" stroke="#8fa5b3" stroke-width="2.2" stroke-linejoin="round" stroke-linecap="round" />
<path d="M476,850 L484,847 L494.6,848.6 L496,858.5 L490,866 L485,859 L478.5,858 Z" fill="#8fa5b3" stroke="#18212c" stroke-width="2" stroke-linejoin="round" stroke-linecap="round" />
<path d="M485,849 L486.5,866" fill="none" stroke="#18212c" stroke-width="2.2" stroke-linejoin="round" stroke-linecap="round" />
<path d="M487.6,850.6 L493,851.4 L493.8,857.5 L489,858.6 Z" fill="#c3d0d8" stroke="#18212c" stroke-width="0.6" stroke-linejoin="round" stroke-linecap="round" />
<path d="M478.5,938.8 L496.3,938.8 L496.3,950.5 Q496.3,954.6 492,954.6 L482.5,954.6 Q478.5,954.6 478.5,950.5 Z" fill="#8fa5b3" stroke="#18212c" stroke-width="2" stroke-linejoin="round" stroke-linecap="round" />
<path d="M480.5,940.6 L494.3,940.6 L494.3,943.6 L480.5,943.6 Z" fill="#b7c7d0" stroke="none" stroke-width="1.1" stroke-linejoin="round" stroke-linecap="round" />
<ellipse cx="487" cy="948" rx="4" ry="3.6" fill="#18212c" stroke="#18212c" stroke-width="0.8"/>
<path d="M448,1023.5 L448,1003" fill="none" stroke="#18212c" stroke-width="7" stroke-linecap="butt" stroke-linejoin="round"/>
<path d="M448,1023.5 L448,1003" fill="none" stroke="#a9bbc7" stroke-width="3.60" stroke-linecap="butt" stroke-linejoin="round"/>
<path d="M448,1023.5 L448,1003" fill="none" stroke="#dbe3e8" stroke-width="1.51" stroke-linecap="butt" stroke-linejoin="round"/>
<path d="M444.2,1004 L446.5,999.6 L451.5,1000.2 L452,1005 Z" fill="#c9d6dd" stroke="#18212c" stroke-width="1.5" stroke-linejoin="round" stroke-linecap="round" />
<path d="M459,1027 L459,1012" fill="none" stroke="#18212c" stroke-width="7" stroke-linecap="butt" stroke-linejoin="round"/>
<path d="M459,1027 L459,1012" fill="none" stroke="#a9bbc7" stroke-width="3.60" stroke-linecap="butt" stroke-linejoin="round"/>
<path d="M459,1027 L459,1012" fill="none" stroke="#dbe3e8" stroke-width="1.51" stroke-linecap="butt" stroke-linejoin="round"/>
<path d="M474.8,1033.5 L474.8,1021" fill="none" stroke="#18212c" stroke-width="5.6" stroke-linecap="butt" stroke-linejoin="round"/>
<path d="M474.8,1033.5 L474.8,1021" fill="none" stroke="#c9d6dd" stroke-width="2.60" stroke-linecap="butt" stroke-linejoin="round"/>
<path d="M474.8,1033.5 L474.8,1021" fill="none" stroke="#dbe3e8" stroke-width="1.09" stroke-linecap="butt" stroke-linejoin="round"/>
<path d="M453,1001 Q454,994.5 460,994.5 L466,994.5 L466,1026 L459,1026.5 Q453,1025 453,1019 Z" fill="#c9d6dd" stroke="#18212c" stroke-width="1.6" stroke-linejoin="round" stroke-linecap="round" />
<path d="M456.5,996 L456.5,1025 M461.5,995 L461.5,1026" fill="none" stroke="#18212c" stroke-width="1.3" stroke-linejoin="round" stroke-linecap="round" />
<path d="M465,992 L470,990.5 L477.5,990.5 L477.5,1019 L465,1019 Z" fill="#5f7482" stroke="#18212c" stroke-width="1.6" stroke-linejoin="round" stroke-linecap="round" />
<path d="M468.5,991.5 L468.5,1018.5 M472.5,991 L472.5,1018.5" fill="none" stroke="#18212c" stroke-width="1.6" stroke-linejoin="round" stroke-linecap="round" />
<path d="M477.3,991 L484,989.5 L516,990.5 L521.7,994 L521.7,1021 L518,1024.8 L478,1024.8 L475,1021 L475,996 Z" fill="#5f7482" stroke="#18212c" stroke-width="1.8" stroke-linejoin="round" stroke-linecap="round" />
<path d="M480,993.5 L500,993.5 L500,1008 L480,1008 Z" fill="#3c4a56" stroke="#18212c" stroke-width="0.8" stroke-linejoin="round" stroke-linecap="round" />
<path d="M482.5,996 L486.5,996 L486.5,1006 L482.5,1006 Z M490.5,996 L494.5,996 L494.5,1006 L490.5,1006 Z" fill="#8a9fac" stroke="#18212c" stroke-width="0.6" stroke-linejoin="round" stroke-linecap="round" />
<path d="M482,1000.5 L495,1000.5" fill="none" stroke="#18212c" stroke-width="1.4" stroke-linejoin="round" stroke-linecap="round" />
<path d="M501,994.5 L513,994.5 L511,1007.5 L501,1007.5 Z" fill="#8096a4" stroke="#18212c" stroke-width="0.9" stroke-linejoin="round" stroke-linecap="round" />
<path d="M513,992 L519,990 L521.7,994 L521.7,1012 L515,1010 Z" fill="#18212c" stroke="#18212c" stroke-width="1" stroke-linejoin="round" stroke-linecap="round" />
<path d="M515.5,995 L517.5,1007" fill="none" stroke="#8a9fac" stroke-width="1.3" stroke-linejoin="round" stroke-linecap="round" />
<path d="M475,1009.6 L518.7,1009.6 L518.7,1022.7 L478,1022.7 L475,1020 Z" fill="#8fa5b3" stroke="#18212c" stroke-width="1.2" stroke-linejoin="round" stroke-linecap="round" />
<path d="M509.5,1013.5 L515.5,1013.5 L515.5,1020 L509.5,1020 Z" fill="#5f7482" stroke="#18212c" stroke-width="1.3" stroke-linejoin="round" stroke-linecap="round" />
<path d="M520.7,999.6 L525,999.6 Q526.9,1000 526.9,1003 L526.9,1018 Q526.9,1020.7 524.5,1020.7 L520.7,1020.7 Z" fill="#5f7482" stroke="#18212c" stroke-width="1.6" stroke-linejoin="round" stroke-linecap="round" />
<path d="M478.3,1023.8 L500.5,1023.8 L500.5,1036.5 Q497,1040 489.5,1040 Q482,1040 478.3,1036.5 Z" fill="#5f7482" stroke="#18212c" stroke-width="1.7" stroke-linejoin="round" stroke-linecap="round" />
<ellipse cx="488.2" cy="1033" rx="4.2" ry="3.8" fill="#18212c" stroke="#18212c" stroke-width="0.8"/>
<path d="M480.5,1025.5 L498.5,1025.5 L498.5,1028 L480.5,1028 Z" fill="#8a9fac" stroke="none" stroke-width="1.1" stroke-linejoin="round" stroke-linecap="round" />
<path d="M508.6,1022.7 L524.7,1021 L524.7,1036 Q523,1043 516.5,1043 Q510,1042.5 508.6,1036 Z" fill="#9fb3bf" stroke="#18212c" stroke-width="1.7" stroke-linejoin="round" stroke-linecap="round" />
<path d="M511.5,1025 L515.5,1025 L515.5,1040 L511.5,1039 Z" fill="#e3ebef" stroke="none" stroke-width="1.1" stroke-linejoin="round" stroke-linecap="round" />
<polygon points="613.0,1105.6 618.0,1101.8 624.4,1105.6 624.8,1128.3 623.0,1148.4 609.3,1166.0 609.0,1130.0 613.0,1125.8" fill="#5f7482" stroke="#18212c" stroke-width="2" stroke-linejoin="round" />
<path d="M617.5,1105 L621.5,1107.5 L621.6,1127 L620,1146 L612,1157 L612,1133 L617,1128 Z" fill="#3c4a56" stroke="#18212c" stroke-width="0.8" stroke-linejoin="round" stroke-linecap="round" />
<polygon points="592.9,1130.8 596.7,1127.0 613.0,1125.8 613.0,1105.6 618.0,1101.8 620.0,1106.0 619.5,1130.0 614.0,1137.0 610.0,1150.0 609.3,1166.0 604.3,1173.6 595.4,1171.0 592.9,1156.0" fill="#8a9fac" stroke="#18212c" stroke-width="2" stroke-linejoin="round" />
<path d="M613,1125.8 L613.5,1106 L618,1102.5 L619.5,1106 L619,1128 Z" fill="#a9bbc7" stroke="#18212c" stroke-width="1.2" stroke-linejoin="round" stroke-linecap="round" />
<ellipse cx="600" cy="1133.5" rx="2.4" ry="1.8" fill="#3c4a56" stroke="#18212c" stroke-width="0.9"/>
<ellipse cx="601.5" cy="1167" rx="2.4" ry="1.8" fill="#3c4a56" stroke="#18212c" stroke-width="0.9"/>
<path d="M600,1135 L598,1150 L601,1165" fill="none" stroke="#18212c" stroke-width="1" stroke-linejoin="round" stroke-linecap="round" />
<ellipse cx="613.5" cy="1134" rx="3.4" ry="3" fill="#c9d6dd" stroke="#18212c" stroke-width="1.2"/>
<path d="M616,1130 L621,1140" fill="none" stroke="#18212c" stroke-width="2.2" stroke-linejoin="round" stroke-linecap="round" />
<path d="M659.5,1118.5 L672,1121.8" fill="none" stroke="#18212c" stroke-width="6.4" stroke-linejoin="round" stroke-linecap="round" />
<path d="M660.5,1118.8 L671,1121.6" fill="none" stroke="#9fb2be" stroke-width="3" stroke-linejoin="round" stroke-linecap="round" stroke-dasharray="1.2 1.2"/>
<path d="M672.5,1117.6 L680.4,1120 L680,1130 L671.8,1127.8 Z" fill="#7d919e" stroke="#18212c" stroke-width="1.8" stroke-linejoin="round" stroke-linecap="round" />
<path d="M656.5,1164 L666.5,1169" fill="none" stroke="#18212c" stroke-width="6" stroke-linejoin="round" stroke-linecap="round" />
<path d="M657.5,1164.4 L665.5,1168.6" fill="none" stroke="#9fb2be" stroke-width="2.6" stroke-linejoin="round" stroke-linecap="round" stroke-dasharray="1.2 1.2"/>
<ellipse cx="669.2" cy="1171" rx="4.8" ry="6.4" fill="#18212c" stroke="#18212c" stroke-width="1" transform="rotate(-25 669.2 1171)"/>
<ellipse cx="669.8" cy="1171.3" rx="2" ry="3.4" fill="#7d919e" stroke="#18212c" stroke-width="0.5" transform="rotate(-25 669.8 1171.3)"/>
<ellipse cx="592.8" cy="1205.2" rx="6" ry="5.6" fill="#18212c" stroke="#18212c" stroke-width="1.2"/>
<path d="M591.5,1196.5 L595.5,1196.5 L595.5,1201 L591.5,1201 Z" fill="#8a9fac" stroke="#18212c" stroke-width="1.2" stroke-linejoin="round" stroke-linecap="round" />
<path d="M737,858 L735,886 Q733,905 718,912 Q704,919 690,915 L668,909.5 Q652,906.5 640,913 Q629,920 629.5,931" fill="none" stroke="#18212c" stroke-width="10.4" stroke-linecap="butt" stroke-linejoin="round"/>
<path d="M737,858 L735,886 Q733,905 718,912 Q704,919 690,915 L668,909.5 Q652,906.5 640,913 Q629,920 629.5,931" fill="none" stroke="#dbe4e9" stroke-width="6.88" stroke-linecap="butt" stroke-linejoin="round"/>
<path d="M737,858 L735,886 Q733,905 718,912 Q704,919 690,915 L668,909.5 Q652,906.5 640,913 Q629,920 629.5,931" fill="none" stroke="#f1f5f7" stroke-width="2.89" stroke-linecap="butt" stroke-linejoin="round"/>
<path d="M636,938 Q640,946 634,956 L628.5,968 Q626.5,975 627.5,983" fill="none" stroke="#18212c" stroke-width="10" stroke-linecap="butt" stroke-linejoin="round"/>
<path d="M636,938 Q640,946 634,956 L628.5,968 Q626.5,975 627.5,983" fill="none" stroke="#dbe4e9" stroke-width="6.48" stroke-linecap="butt" stroke-linejoin="round"/>
<path d="M636,938 Q640,946 634,956 L628.5,968 Q626.5,975 627.5,983" fill="none" stroke="#f1f5f7" stroke-width="2.72" stroke-linecap="butt" stroke-linejoin="round"/>
<path d="M627,930 Q634,927 640,934 Q640,940 634,942 Q628,940 627,930 Z" fill="#e3ebef" stroke="#18212c" stroke-width="1.3" stroke-linejoin="round" stroke-linecap="round" />
<ellipse cx="657.5" cy="929.5" rx="12" ry="9.6" fill="#e3ebef" stroke="#18212c" stroke-width="1.5" transform="rotate(8 657.5 929.5)"/>
<ellipse cx="657.8" cy="928.6" rx="8.2" ry="5.8" fill="#fdfffe" stroke="#18212c" stroke-width="1.3" transform="rotate(8 657.8 928.6)"/>
<path d="M648,922 L650.5,914.5 L660.5,915 L661,921.5" fill="#e3ebef" stroke="#18212c" stroke-width="1.3" stroke-linejoin="round" stroke-linecap="round" />
<path d="M653,915 L653.5,921 M657.5,915 L657.5,921" fill="none" stroke="#18212c" stroke-width="1" stroke-linejoin="round" stroke-linecap="round" />
<path d="M646.5,934 L651,940.5 M653,937.5 L656,942 M660,938.5 L662,942.5 M666,936 L669.5,940" fill="none" stroke="#18212c" stroke-width="1.3" stroke-linejoin="round" stroke-linecap="round" />
<path d="M646,927 Q647,937 658,939.5 Q668,939 669.5,930" fill="none" stroke="#18212c" stroke-width="1.2" stroke-linejoin="round" stroke-linecap="round" />
<path d="M625.5,979 L636.5,976 L640,983 L630,987 Z" fill="#c9d6dd" stroke="#18212c" stroke-width="1.3" stroke-linejoin="round" stroke-linecap="round" />
<path d="M629,986 L640,983 Q652,988 661,1004 L664,1022 L650,1029 L634,1032 L628,1020 Q624,1002 629,986 Z" fill="#a9bbc7" stroke="#18212c" stroke-width="1.4" stroke-linejoin="round" stroke-linecap="round" />
<path d="M634,990 Q644,992 652,1002 L656,1018 L646,1022 Z" fill="#c9d6dd" stroke="#18212c" stroke-width="0.9" stroke-linejoin="round" stroke-linecap="round" />
<path d="M641,996 L650,1020" fill="none" stroke="#18212c" stroke-width="2.8" stroke-linejoin="round" stroke-linecap="round" stroke-dasharray="5 1.5 2 1.5"/>
<path d="M636,1000 L638,1006 M634,1008 L640,1016" fill="none" stroke="#18212c" stroke-width="1.2" stroke-linejoin="round" stroke-linecap="round" />
<ellipse cx="667" cy="1010" rx="5.6" ry="6.6" fill="#c9d6dd" stroke="#18212c" stroke-width="1.2" transform="rotate(-20 667 1010)"/>
<ellipse cx="667" cy="1010" rx="2.4" ry="3" fill="#8a9fac" stroke="#18212c" stroke-width="0.9" transform="rotate(-20 667 1010)"/>
<ellipse cx="627.5" cy="1029.5" rx="5.6" ry="6.4" fill="#c9d6dd" stroke="#18212c" stroke-width="1.2" transform="rotate(-20 627.5 1029.5)"/>
<ellipse cx="627.5" cy="1029.5" rx="2.4" ry="3" fill="#8a9fac" stroke="#18212c" stroke-width="0.9" transform="rotate(-20 627.5 1029.5)"/>
<path d="M641,1029 L662,1020 L664,1026 L645,1035 Z" fill="#e3ebef" stroke="#18212c" stroke-width="1.2" stroke-linejoin="round" stroke-linecap="round" />
<path d="M648,1036 L660,1030 L671,1056 L659,1062 Z" fill="#c9d6dd" stroke="#18212c" stroke-width="1.3" stroke-linejoin="round" stroke-linecap="round" />
<path d="M652,1040 L658,1054 M655.5,1038.5 L661.5,1052.5" fill="none" stroke="#18212c" stroke-width="0.9" stroke-linejoin="round" stroke-linecap="round" />
<path d="M656,1052 L668,1046 L674,1061 L663,1067 Z" fill="#8a9fac" stroke="#18212c" stroke-width="1.3" stroke-linejoin="round" stroke-linecap="round" />
</g>
<g id="p_labels">
<text transform="translate(132.5 245.4) scale(0.92 1)" font-size="22" class="lb">2</text>
<text transform="translate(129.3 270.1) scale(0.92 1)" font-size="22" class="lb">15</text>
<text transform="translate(129.3 294.8) scale(0.92 1)" font-size="22" class="lb">16</text>
<text transform="translate(129.3 319.5) scale(0.92 1)" font-size="22" class="lb">17</text>
<text transform="translate(129.3 344.2) scale(0.92 1)" font-size="22" class="lb">18</text>
<text transform="translate(129.3 368.9) scale(0.92 1)" font-size="22" class="lb">19</text>
<text transform="translate(132.5 393.7) scale(0.92 1)" font-size="22" class="lb">20</text>
<text transform="translate(132.5 418.5) scale(0.92 1)" font-size="22" class="lb">21</text>
<text transform="translate(132.5 634.2) scale(0.92 1)" font-size="22" class="lb">22</text>
<text transform="translate(105.2 597.5) scale(0.92 1)" font-size="22" class="lb">1</text>
<path d="M132.5,214.5 L123.6,223.4 L123.6,584.5 L117,591.2 L123.6,598 L123.6,964.4 L132.6,973.2" fill="none" stroke="#18212c" stroke-width="1.5" stroke-linejoin="round" stroke-linecap="round" />
<line x1="133.3" y1="554.7" x2="166" y2="554.7" stroke="#18212c" stroke-width="1.6" />
<text transform="translate(348.0 239.6) scale(0.92 1)" font-size="22" class="lb">2</text>
<line x1="353" y1="244.5" x2="353" y2="273.5" stroke="#18212c" stroke-width="1.6" />
<text transform="translate(653.7 152.7) scale(0.92 1)" font-size="22" class="lb">15</text>
<line x1="667" y1="159.5" x2="667" y2="186.7" stroke="#18212c" stroke-width="1.6" />
<text transform="translate(696.7 165.3) scale(0.92 1)" font-size="22" class="lb">16</text>
<line x1="709.8" y1="171.6" x2="709.8" y2="199.3" stroke="#18212c" stroke-width="1.6" />
<text transform="translate(739.0 179.1) scale(0.92 1)" font-size="22" class="lb">17</text>
<line x1="751.7" y1="184.5" x2="751.7" y2="214.4" stroke="#18212c" stroke-width="1.6" />
<text transform="translate(790.7 202.6) scale(0.92 1)" font-size="22" class="lb">18</text>
<line x1="803.3" y1="208" x2="803.3" y2="235.8" stroke="#18212c" stroke-width="1.6" />
<text transform="translate(716.3 320.3) scale(0.92 1)" font-size="22" class="lb">19</text>
<line x1="729.7" y1="278.7" x2="729.7" y2="302.6" stroke="#18212c" stroke-width="1.6" />
<text transform="translate(885.2 344.2) scale(0.92 1)" font-size="22" class="lb">20</text>
<line x1="847.4" y1="338" x2="880.2" y2="338" stroke="#18212c" stroke-width="1.6" />
<text transform="translate(781.2 500) scale(0.92 1)" font-size="22" class="lb">21</text>
<line x1="792" y1="451" x2="792" y2="481.2" stroke="#18212c" stroke-width="1.6" />
<text transform="translate(690.8 400.3) scale(0.92 1)" font-size="22" class="lb">4</text>
<line x1="696" y1="354" x2="696" y2="380.6" stroke="#18212c" stroke-width="1.6" />
<text transform="translate(274.5 525.7) scale(0.92 1)" font-size="22" class="lb">3</text>
<line x1="246" y1="520" x2="270" y2="520" stroke="#18212c" stroke-width="1.6" />
<text transform="translate(230.2 600) scale(0.92 1)" font-size="22" class="lb">22</text>
<line x1="241" y1="558" x2="241" y2="583.6" stroke="#18212c" stroke-width="1.6" />
<text transform="translate(133.1 800.3) scale(0.92 1)" font-size="22" class="lb">23</text>
<line x1="157.3" y1="793.7" x2="179.5" y2="793.7" stroke="#18212c" stroke-width="1.6" />
<text transform="translate(184.4 865) scale(0.92 1)" font-size="22" class="lb">5</text>
<line x1="161.6" y1="860" x2="180" y2="860" stroke="#18212c" stroke-width="1.6" />
<text transform="translate(133.1 893.5) scale(0.92 1)" font-size="22" class="lb">24</text>
<line x1="157.3" y1="887" x2="217.5" y2="887" stroke="#18212c" stroke-width="1.6" />
<text transform="translate(134.2 953.6) scale(0.92 1)" font-size="22" class="lb">25</text>
<line x1="157.8" y1="947.5" x2="185.5" y2="947.5" stroke="#18212c" stroke-width="1.6" />
<text transform="translate(276.2 839.9) scale(0.92 1)" font-size="22" class="lb">5</text>
<line x1="281.3" y1="797" x2="281.3" y2="821" stroke="#18212c" stroke-width="1.6" />
<text transform="translate(342.2 838.6) scale(0.92 1)" font-size="22" class="lb">6</text>
<line x1="347.6" y1="797" x2="347.6" y2="820.5" stroke="#18212c" stroke-width="1.6" />
<text transform="translate(598.4 614.3) scale(0.92 1)" font-size="22" class="lb">26</text>
<line x1="563.9" y1="607.2" x2="595.4" y2="607.2" stroke="#18212c" stroke-width="1.6" />
<text transform="translate(532.4 746.3) scale(0.92 1)" font-size="22" class="lb">8</text>
<line x1="498.4" y1="740" x2="528.6" y2="740" stroke="#18212c" stroke-width="1.6" />
<text transform="translate(533.0 853.2) scale(0.92 1)" font-size="22" class="lb">9</text>
<line x1="497" y1="848.2" x2="528.6" y2="848.2" stroke="#18212c" stroke-width="1.6" />
<text transform="translate(477.3 911.2) scale(0.92 1)" font-size="22" class="lb">10</text>
<line x1="490.7" y1="916" x2="490.7" y2="935.7" stroke="#18212c" stroke-width="1.6" />
<text transform="translate(509.2 961.6) scale(0.92 1)" font-size="22" class="lb">27</text>
<line x1="519.4" y1="966.4" x2="519.4" y2="987.3" stroke="#18212c" stroke-width="1.6" />
<text transform="translate(379.7 934.7) scale(0.92 1)" font-size="22" class="lb">8</text>
<text transform="translate(379.6 955.4) scale(0.92 1)" font-size="22" class="lb">9</text>
<text transform="translate(376.5 976.1) scale(0.92 1)" font-size="22" class="lb">10</text>
<text transform="translate(379.5 997.4) scale(0.92 1)" font-size="22" class="lb">26</text>
<text transform="translate(379.5 1018.9) scale(0.92 1)" font-size="22" class="lb">27</text>
<text transform="translate(351.2 1032.7) scale(0.92 1)" font-size="22" class="lb">7</text>
<path d="M380.3,894 L371.5,903 L371.5,1021 L365.2,1027.7 L371.5,1034.4 L371.5,1156 L380.3,1164.7" fill="none" stroke="#18212c" stroke-width="1.5" stroke-linejoin="round" stroke-linecap="round" />
<line x1="379" y1="911" x2="413" y2="911" stroke="#18212c" stroke-width="1.6" />
<text transform="translate(379.5 1069.8) scale(0.92 1)" font-size="22" class="lb">28</text>
<line x1="404.3" y1="1063" x2="420.6" y2="1063" stroke="#18212c" stroke-width="1.6" />
<text transform="translate(379.5 1119.4) scale(0.92 1)" font-size="22" class="lb">29</text>
<line x1="404.3" y1="1113" x2="434.5" y2="1113" stroke="#18212c" stroke-width="1.6" />
<text transform="translate(379.8 1148.2) scale(0.92 1)" font-size="22" class="lb">30</text>
<line x1="404.3" y1="1142" x2="480" y2="1142" stroke="#18212c" stroke-width="1.6" />
<text transform="translate(539.0 1157.2) scale(0.92 1)" font-size="22" class="lb">11</text>
<line x1="565.2" y1="1151" x2="594.2" y2="1151" stroke="#18212c" stroke-width="1.6" />
<text transform="translate(708.7 1173.6) scale(0.92 1)" font-size="22" class="lb">12</text>
<line x1="676" y1="1168" x2="706.3" y2="1168" stroke="#18212c" stroke-width="1.6" />
<text transform="translate(715.1 1126.3) scale(0.92 1)" font-size="22" class="lb">13</text>
<line x1="683" y1="1120.7" x2="713.9" y2="1120.7" stroke="#18212c" stroke-width="1.6" />
<text transform="translate(531.5 1209.4) scale(0.92 1)" font-size="22" class="lb">14</text>
<line x1="559.3" y1="1203.4" x2="586.6" y2="1203.4" stroke="#18212c" stroke-width="1.6" />
</g>
<g id="p_wm">
<g class="wm" opacity="0.14" fill="#e8282c" font-weight="bold">
<text x="71.3 151.3 233.2 319.0 403.3 485.6 540.4 580.7" y="726.5" font-size="146">scuderia</text>
</g>
<g class="wm" opacity="0.125" fill="#5a5868" font-weight="bold">
<text x="75.2 149.6 223.3 290.0 353.6 430.4 502.6 570.1 631.7" y="784.3" font-size="36">car parts</text>
</g>
<g opacity="0.17" fill="#4b4a5c">
<polygon points="678.3,622.4 713.6,635.1 720.6,661.9 685.3,649.2"/>
<polygon points="692.3,676.0 727.6,688.7 734.6,715.5 699.3,702.8"/>
<polygon points="706.6,608.3 741.9,621.0 748.9,647.8 713.6,635.1"/>
<polygon points="720.6,661.9 755.9,674.6 762.9,701.4 727.6,688.7"/>
<polygon points="734.6,715.5 769.9,728.2 776.9,755.0 741.6,742.3"/>
<polygon points="748.9,647.8 784.2,660.5 791.2,687.3 755.9,674.6"/>
<polygon points="762.9,701.4 798.2,714.1 805.2,740.9 769.9,728.2"/>
<polygon points="776.9,755.0 812.2,767.7 819.2,794.5 783.9,781.8"/>
<polygon points="777.2,633.7 812.5,646.4 819.5,673.2 784.2,660.5"/>
<polygon points="791.2,687.3 826.5,700.0 833.5,726.8 798.2,714.1"/>
<polygon points="805.2,740.9 840.5,753.6 847.5,780.4 812.2,767.7"/>
<polygon points="819.5,673.2 854.8,685.9 861.8,712.7 826.5,700.0"/>
<polygon points="833.5,726.8 868.8,739.5 875.8,766.3 840.5,753.6"/>
<polygon points="847.8,659.1 883.1,671.8 890.1,698.6 854.8,685.9"/>
<polygon points="861.8,712.7 897.1,725.4 904.1,752.2 868.8,739.5"/>
</g>
</g>
</svg>
</body>
</html>
